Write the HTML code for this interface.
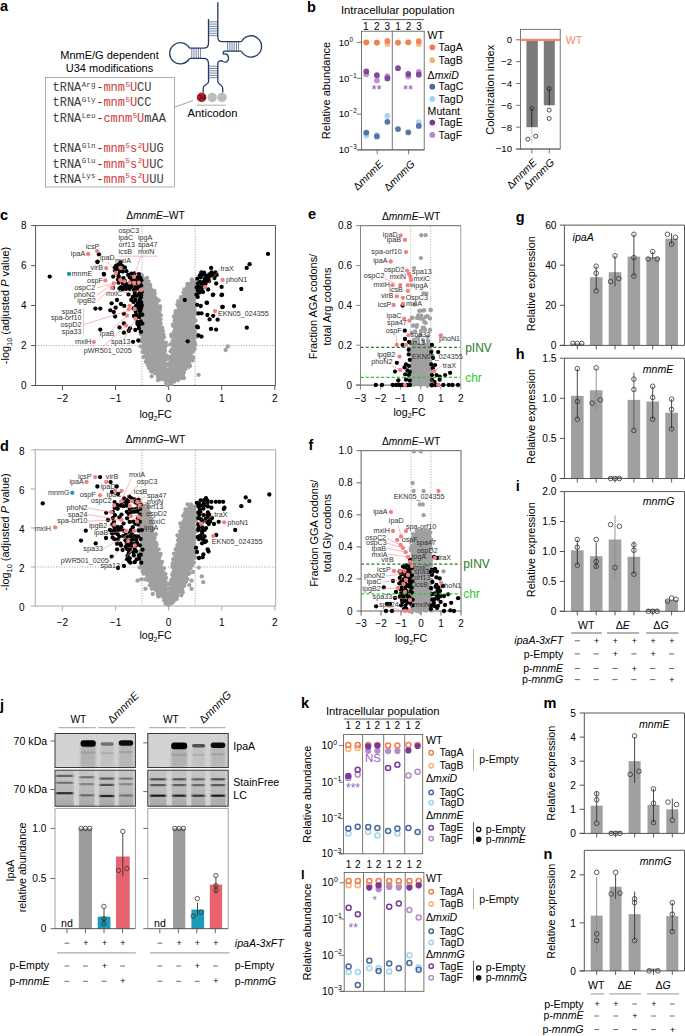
<!DOCTYPE html>
<html><head><meta charset="utf-8"><style>
html,body{margin:0;padding:0;background:#fff;}
svg{display:block;font-family:"Liberation Sans",sans-serif;}
</style></head><body>
<svg width="685" height="1036" viewBox="0 0 685 1036">
<rect width="685" height="1036" fill="#fff"/>
<text x="0.0" y="11.0" font-size="14.5" fill="#000" font-weight="bold">a</text>
<text x="109.5" y="59.0" font-size="11" text-anchor="middle">MnmE/G dependent</text>
<text x="109.5" y="71.5" font-size="11" text-anchor="middle">U34 modifications</text>
<rect x="45.5" y="77.5" width="129.0" height="109.5" fill="none" stroke="#8a8a8a" stroke-width="0.7"/>
<text x="52.5" y="91.0" font-size="12" fill="#3c3c3c" font-family="'Liberation Mono',monospace">tRNA</text>
<text x="81.8" y="86.8" font-size="7.6" fill="#3c3c3c" font-family="'Liberation Mono',monospace">Arg</text>
<text x="96.2" y="91.0" font-size="12" fill="#3c3c3c" font-family="'Liberation Mono',monospace">-</text>
<text x="103.4" y="91.0" font-size="12" fill="#c8393c" font-family="'Liberation Mono',monospace">mnm</text>
<text x="125.6" y="86.8" font-size="7.6" fill="#c8393c" font-family="'Liberation Mono',monospace">5</text>
<text x="129.9" y="91.0" font-size="12" fill="#c8393c" font-family="'Liberation Mono',monospace">U</text>
<text x="137.1" y="91.0" font-size="12" fill="#3c3c3c" font-family="'Liberation Mono',monospace">CU</text>
<text x="52.5" y="106.4" font-size="12" fill="#3c3c3c" font-family="'Liberation Mono',monospace">tRNA</text>
<text x="81.8" y="102.2" font-size="7.6" fill="#3c3c3c" font-family="'Liberation Mono',monospace">Gly</text>
<text x="96.2" y="106.4" font-size="12" fill="#3c3c3c" font-family="'Liberation Mono',monospace">-</text>
<text x="103.4" y="106.4" font-size="12" fill="#c8393c" font-family="'Liberation Mono',monospace">mnm</text>
<text x="125.6" y="102.2" font-size="7.6" fill="#c8393c" font-family="'Liberation Mono',monospace">5</text>
<text x="129.9" y="106.4" font-size="12" fill="#c8393c" font-family="'Liberation Mono',monospace">U</text>
<text x="137.1" y="106.4" font-size="12" fill="#3c3c3c" font-family="'Liberation Mono',monospace">CC</text>
<text x="52.5" y="121.8" font-size="12" fill="#3c3c3c" font-family="'Liberation Mono',monospace">tRNA</text>
<text x="81.8" y="117.6" font-size="7.6" fill="#3c3c3c" font-family="'Liberation Mono',monospace">Leu</text>
<text x="96.2" y="121.8" font-size="12" fill="#3c3c3c" font-family="'Liberation Mono',monospace">-</text>
<text x="103.4" y="121.8" font-size="12" fill="#c8393c" font-family="'Liberation Mono',monospace">cmnm</text>
<text x="132.8" y="117.6" font-size="7.6" fill="#c8393c" font-family="'Liberation Mono',monospace">5</text>
<text x="137.1" y="121.8" font-size="12" fill="#c8393c" font-family="'Liberation Mono',monospace">U</text>
<text x="144.3" y="121.8" font-size="12" fill="#3c3c3c" font-family="'Liberation Mono',monospace">mAA</text>
<text x="52.5" y="152.4" font-size="12" fill="#3c3c3c" font-family="'Liberation Mono',monospace">tRNA</text>
<text x="81.8" y="148.2" font-size="7.6" fill="#3c3c3c" font-family="'Liberation Mono',monospace">Gln</text>
<text x="96.2" y="152.4" font-size="12" fill="#3c3c3c" font-family="'Liberation Mono',monospace">-</text>
<text x="103.4" y="152.4" font-size="12" fill="#c8393c" font-family="'Liberation Mono',monospace">mnm</text>
<text x="125.6" y="148.2" font-size="7.6" fill="#c8393c" font-family="'Liberation Mono',monospace">5</text>
<text x="129.9" y="152.4" font-size="12" fill="#c8393c" font-family="'Liberation Mono',monospace">s</text>
<text x="137.7" y="148.2" font-size="7.6" fill="#c8393c" font-family="'Liberation Mono',monospace">2</text>
<text x="142.0" y="152.4" font-size="12" fill="#c8393c" font-family="'Liberation Mono',monospace">U</text>
<text x="149.2" y="152.4" font-size="12" fill="#3c3c3c" font-family="'Liberation Mono',monospace">UG</text>
<text x="52.5" y="167.6" font-size="12" fill="#3c3c3c" font-family="'Liberation Mono',monospace">tRNA</text>
<text x="81.8" y="163.4" font-size="7.6" fill="#3c3c3c" font-family="'Liberation Mono',monospace">Glu</text>
<text x="96.2" y="167.6" font-size="12" fill="#3c3c3c" font-family="'Liberation Mono',monospace">-</text>
<text x="103.4" y="167.6" font-size="12" fill="#c8393c" font-family="'Liberation Mono',monospace">mnm</text>
<text x="125.6" y="163.4" font-size="7.6" fill="#c8393c" font-family="'Liberation Mono',monospace">5</text>
<text x="129.9" y="167.6" font-size="12" fill="#c8393c" font-family="'Liberation Mono',monospace">s</text>
<text x="137.7" y="163.4" font-size="7.6" fill="#c8393c" font-family="'Liberation Mono',monospace">2</text>
<text x="142.0" y="167.6" font-size="12" fill="#c8393c" font-family="'Liberation Mono',monospace">U</text>
<text x="149.2" y="167.6" font-size="12" fill="#3c3c3c" font-family="'Liberation Mono',monospace">UC</text>
<text x="52.5" y="182.6" font-size="12" fill="#3c3c3c" font-family="'Liberation Mono',monospace">tRNA</text>
<text x="81.8" y="178.4" font-size="7.6" fill="#3c3c3c" font-family="'Liberation Mono',monospace">Lys</text>
<text x="96.2" y="182.6" font-size="12" fill="#3c3c3c" font-family="'Liberation Mono',monospace">-</text>
<text x="103.4" y="182.6" font-size="12" fill="#c8393c" font-family="'Liberation Mono',monospace">mnm</text>
<text x="125.6" y="178.4" font-size="7.6" fill="#c8393c" font-family="'Liberation Mono',monospace">5</text>
<text x="129.9" y="182.6" font-size="12" fill="#c8393c" font-family="'Liberation Mono',monospace">s</text>
<text x="137.7" y="178.4" font-size="7.6" fill="#c8393c" font-family="'Liberation Mono',monospace">2</text>
<text x="142.0" y="182.6" font-size="12" fill="#c8393c" font-family="'Liberation Mono',monospace">U</text>
<text x="149.2" y="182.6" font-size="12" fill="#3c3c3c" font-family="'Liberation Mono',monospace">UU</text>
<line x1="174.6" y1="107.2" x2="193.0" y2="100.5" stroke="#777" stroke-width="0.7"/>
<path d="M217.8,2.2 L217.8,37 Q217.8,41.6 222,41.6 L241.5,41.6" fill="none" stroke="#1f3a63" stroke-width="1.3"/>
<path d="M208.5,19 L208.5,43 Q208.5,48.2 203.5,48.2 L189.6,48.2" fill="none" stroke="#1f3a63" stroke-width="1.3"/>
<path d="M189.6,48.2 A10.6,10.6 0 1 0 189.6,58.4" fill="none" stroke="#1f3a63" stroke-width="1.3"/>
<path d="M189.6,58.4 L203.5,58.4 Q208.5,58.4 208.5,63.5 L208.5,79" fill="none" stroke="#1f3a63" stroke-width="1.3"/>
<path d="M241.5,41.6 A10.6,10.6 0 1 1 241.5,51.2" fill="none" stroke="#1f3a63" stroke-width="1.3"/>
<path d="M241.5,51.2 L225.5,51.2 Q222,51.2 223.5,54 Q229,53.5 228.5,59 Q227.5,63.5 223,61.5 Q219.5,59.5 217.8,63 L217.8,79" fill="none" stroke="#1f3a63" stroke-width="1.3"/>
<path d="M208.6,79 L208.6,81.5 C208.6,84.5 203.2,84.5 203.2,88 L203.2,92.5" fill="none" stroke="#1f3a63" stroke-width="1.3"/>
<path d="M217.8,79 L217.8,81.5 C217.8,84.5 222.7,84.5 222.7,88 L222.7,92.5" fill="none" stroke="#1f3a63" stroke-width="1.3"/>
<line x1="208.5" y1="21.8" x2="217.8" y2="21.8" stroke="#2a4470" stroke-width="0.65"/>
<line x1="208.5" y1="24.1" x2="217.8" y2="24.1" stroke="#2a4470" stroke-width="0.65"/>
<line x1="208.5" y1="26.4" x2="217.8" y2="26.4" stroke="#2a4470" stroke-width="0.65"/>
<line x1="208.5" y1="28.7" x2="217.8" y2="28.7" stroke="#2a4470" stroke-width="0.65"/>
<line x1="208.5" y1="31.0" x2="217.8" y2="31.0" stroke="#2a4470" stroke-width="0.65"/>
<line x1="208.5" y1="33.3" x2="217.8" y2="33.3" stroke="#2a4470" stroke-width="0.65"/>
<line x1="208.5" y1="35.6" x2="217.8" y2="35.6" stroke="#2a4470" stroke-width="0.65"/>
<line x1="208.5" y1="66.2" x2="217.8" y2="66.2" stroke="#2a4470" stroke-width="0.65"/>
<line x1="208.5" y1="68.5" x2="217.8" y2="68.5" stroke="#2a4470" stroke-width="0.65"/>
<line x1="208.5" y1="70.8" x2="217.8" y2="70.8" stroke="#2a4470" stroke-width="0.65"/>
<line x1="208.5" y1="73.1" x2="217.8" y2="73.1" stroke="#2a4470" stroke-width="0.65"/>
<line x1="208.5" y1="75.4" x2="217.8" y2="75.4" stroke="#2a4470" stroke-width="0.65"/>
<line x1="208.5" y1="77.7" x2="217.8" y2="77.7" stroke="#2a4470" stroke-width="0.65"/>
<line x1="191.8" y1="48.2" x2="191.8" y2="58.4" stroke="#2a4470" stroke-width="0.65"/>
<line x1="194.0" y1="48.2" x2="194.0" y2="58.4" stroke="#2a4470" stroke-width="0.65"/>
<line x1="196.2" y1="48.2" x2="196.2" y2="58.4" stroke="#2a4470" stroke-width="0.65"/>
<line x1="198.4" y1="48.2" x2="198.4" y2="58.4" stroke="#2a4470" stroke-width="0.65"/>
<line x1="200.6" y1="48.2" x2="200.6" y2="58.4" stroke="#2a4470" stroke-width="0.65"/>
<line x1="227.6" y1="41.6" x2="227.6" y2="51.2" stroke="#2a4470" stroke-width="0.65"/>
<line x1="229.8" y1="41.6" x2="229.8" y2="51.2" stroke="#2a4470" stroke-width="0.65"/>
<line x1="232.0" y1="41.6" x2="232.0" y2="51.2" stroke="#2a4470" stroke-width="0.65"/>
<line x1="234.2" y1="41.6" x2="234.2" y2="51.2" stroke="#2a4470" stroke-width="0.65"/>
<line x1="236.4" y1="41.6" x2="236.4" y2="51.2" stroke="#2a4470" stroke-width="0.65"/>
<line x1="238.6" y1="41.6" x2="238.6" y2="51.2" stroke="#2a4470" stroke-width="0.65"/>
<circle cx="212.2" cy="97.4" r="4.7" fill="#bdbdbd"/>
<circle cx="222.0" cy="97.4" r="4.7" fill="#bdbdbd"/>
<circle cx="201.6" cy="97.4" r="4.8" fill="#b8262b"/>
<text x="201.7" y="100.1" font-size="7.6" text-anchor="middle" fill="#2a0808">34</text>
<line x1="197.0" y1="105.2" x2="225.8" y2="105.2" stroke="#999" stroke-width="0.8"/>
<text x="212.5" y="116.5" font-size="11.2" text-anchor="middle">Anticodon</text>
<text x="307.0" y="11.5" font-size="14.5" fill="#000" font-weight="bold">b</text>
<text x="397.8" y="14.0" font-size="11.3" text-anchor="middle">Intracellular population</text>
<line x1="362.0" y1="19.6" x2="424.2" y2="19.6" stroke="#333" stroke-width="0.8"/>
<text x="365.9" y="29.8" font-size="10" text-anchor="middle">1</text>
<text x="376.9" y="29.8" font-size="10" text-anchor="middle">2</text>
<text x="387.4" y="29.8" font-size="10" text-anchor="middle">3</text>
<text x="398.1" y="29.8" font-size="10" text-anchor="middle">1</text>
<text x="408.6" y="29.8" font-size="10" text-anchor="middle">2</text>
<text x="419.1" y="29.8" font-size="10" text-anchor="middle">3</text>
<rect x="361.5" y="31.2" width="62.7" height="118.7" fill="none" stroke="#555" stroke-width="0.8"/>
<line x1="392.3" y1="31.2" x2="392.3" y2="149.9" stroke="#555" stroke-width="0.8"/>
<line x1="356.8" y1="42.3" x2="361.5" y2="42.3" stroke="#555" stroke-width="0.8"/>
<text x="349.3" y="45.5" font-size="9.6" text-anchor="end">10</text>
<text x="349.6" y="41.5" font-size="6.3">0</text>
<line x1="356.8" y1="78.3" x2="361.5" y2="78.3" stroke="#555" stroke-width="0.8"/>
<text x="349.3" y="81.5" font-size="9.6" text-anchor="end">10</text>
<text x="349.6" y="77.5" font-size="6.3">−1</text>
<line x1="356.8" y1="114.1" x2="361.5" y2="114.1" stroke="#555" stroke-width="0.8"/>
<text x="349.3" y="117.3" font-size="9.6" text-anchor="end">10</text>
<text x="349.6" y="113.3" font-size="6.3">−2</text>
<line x1="356.8" y1="149.9" x2="361.5" y2="149.9" stroke="#555" stroke-width="0.8"/>
<text x="349.3" y="153.1" font-size="9.6" text-anchor="end">10</text>
<text x="349.6" y="149.1" font-size="6.3">−3</text>
<line x1="356.8" y1="149.9" x2="424.2" y2="149.9" stroke="#555" stroke-width="0.8"/>
<line x1="377.2" y1="149.9" x2="377.2" y2="154.3" stroke="#555" stroke-width="0.8"/>
<line x1="408.6" y1="149.9" x2="408.6" y2="154.3" stroke="#555" stroke-width="0.8"/>
<text x="329.5" y="90.5" font-size="11" text-anchor="middle" transform="rotate(-90 329.5 90.5)">Relative abundance</text>
<text x="384.0" y="164.5" font-size="10.5" text-anchor="end" transform="rotate(-45 384.0 164.5)">Δ<tspan font-style="italic">mnmE</tspan></text>
<text x="415.5" y="164.5" font-size="10.5" text-anchor="end" transform="rotate(-45 415.5 164.5)">Δ<tspan font-style="italic">mnmG</tspan></text>
<circle cx="366.3" cy="135.5" r="2.9" fill="#a3d2ee" fill-opacity="0.92"/>
<circle cx="376.9" cy="135.0" r="2.9" fill="#a3d2ee" fill-opacity="0.92"/>
<circle cx="387.4" cy="116.0" r="2.9" fill="#a3d2ee" fill-opacity="0.92"/>
<circle cx="418.8" cy="122.1" r="2.9" fill="#a3d2ee" fill-opacity="0.92"/>
<circle cx="366.3" cy="132.6" r="2.9" fill="#4a699c" fill-opacity="0.92"/>
<circle cx="376.9" cy="136.4" r="2.9" fill="#4a699c" fill-opacity="0.92"/>
<circle cx="387.4" cy="121.8" r="2.9" fill="#4a699c" fill-opacity="0.92"/>
<circle cx="398.0" cy="129.1" r="2.9" fill="#4a699c" fill-opacity="0.92"/>
<circle cx="408.3" cy="132.3" r="2.9" fill="#4a699c" fill-opacity="0.92"/>
<circle cx="418.8" cy="125.9" r="2.9" fill="#4a699c" fill-opacity="0.92"/>
<circle cx="366.3" cy="42.6" r="2.9" fill="#f7b373" fill-opacity="0.92"/>
<circle cx="376.9" cy="42.6" r="2.9" fill="#f7b373" fill-opacity="0.92"/>
<circle cx="387.4" cy="44.1" r="2.9" fill="#f7b373" fill-opacity="0.92"/>
<circle cx="398.0" cy="42.6" r="2.9" fill="#f7b373" fill-opacity="0.92"/>
<circle cx="408.3" cy="42.3" r="2.9" fill="#f7b373" fill-opacity="0.92"/>
<circle cx="418.8" cy="44.1" r="2.9" fill="#f7b373" fill-opacity="0.92"/>
<circle cx="366.3" cy="42.3" r="2.9" fill="#f07d4e" fill-opacity="0.92"/>
<circle cx="376.9" cy="42.6" r="2.9" fill="#f07d4e" fill-opacity="0.92"/>
<circle cx="387.4" cy="40.9" r="2.9" fill="#f07d4e" fill-opacity="0.92"/>
<circle cx="398.0" cy="42.6" r="2.9" fill="#f07d4e" fill-opacity="0.92"/>
<circle cx="408.3" cy="42.3" r="2.9" fill="#f07d4e" fill-opacity="0.92"/>
<circle cx="418.8" cy="41.2" r="2.9" fill="#f07d4e" fill-opacity="0.92"/>
<circle cx="366.3" cy="74.3" r="2.9" fill="#b98ac9" fill-opacity="0.92"/>
<circle cx="376.9" cy="80.6" r="2.9" fill="#b98ac9" fill-opacity="0.92"/>
<circle cx="387.4" cy="76.2" r="2.9" fill="#b98ac9" fill-opacity="0.92"/>
<circle cx="408.3" cy="76.6" r="2.9" fill="#b98ac9" fill-opacity="0.92"/>
<circle cx="418.8" cy="71.8" r="2.9" fill="#b98ac9" fill-opacity="0.92"/>
<circle cx="366.3" cy="71.4" r="2.9" fill="#7a3a9a" fill-opacity="0.92"/>
<circle cx="376.9" cy="75.2" r="2.9" fill="#7a3a9a" fill-opacity="0.92"/>
<circle cx="387.4" cy="78.4" r="2.9" fill="#7a3a9a" fill-opacity="0.92"/>
<circle cx="398.0" cy="68.2" r="2.9" fill="#7a3a9a" fill-opacity="0.92"/>
<circle cx="408.3" cy="74.0" r="2.9" fill="#7a3a9a" fill-opacity="0.92"/>
<circle cx="418.8" cy="74.7" r="2.9" fill="#7a3a9a" fill-opacity="0.92"/>
<text x="376.6" y="93.5" font-size="13" text-anchor="middle" fill="#8b4fb0">**</text>
<text x="408.0" y="93.5" font-size="13" text-anchor="middle" fill="#8b4fb0">**</text>
<text x="427.6" y="39.4" font-size="10.6">WT</text>
<text x="427.6" y="78.6" font-size="10.6">Δ<tspan font-style="italic">mxiD</tspan></text>
<text x="427.6" y="114.9" font-size="10.6">Mutant</text>
<circle cx="432.3" cy="47.3" r="2.9" fill="#f07d4e"/>
<text x="438.6" y="50.9" font-size="10.6">TagA</text>
<circle cx="432.3" cy="60.2" r="2.9" fill="#f7b373"/>
<text x="438.6" y="63.8" font-size="10.6">TagB</text>
<circle cx="432.3" cy="86.7" r="2.9" fill="#4a699c"/>
<text x="438.6" y="90.3" font-size="10.6">TagC</text>
<circle cx="432.3" cy="98.9" r="2.9" fill="#a3d2ee"/>
<text x="438.6" y="102.5" font-size="10.6">TagD</text>
<circle cx="432.3" cy="122.6" r="2.9" fill="#7a3a9a"/>
<text x="438.6" y="126.2" font-size="10.6">TagE</text>
<circle cx="432.3" cy="134.9" r="2.9" fill="#b98ac9"/>
<text x="438.6" y="138.5" font-size="10.6">TagF</text>
<rect x="520.4" y="29.3" width="39.8" height="119.7" fill="none" stroke="#555" stroke-width="0.8"/>
<rect x="526.4" y="39.8" width="11.4" height="87.4" fill="#7b7b7b"/>
<rect x="543.8" y="39.8" width="11.0" height="65.5" fill="#7b7b7b"/>
<line x1="520.4" y1="39.8" x2="560.2" y2="39.8" stroke="#f28a63" stroke-width="2.2"/>
<text x="565.8" y="43.6" font-size="10.5" fill="#f28a63">WT</text>
<line x1="516.0" y1="39.8" x2="520.4" y2="39.8" stroke="#555" stroke-width="0.8"/>
<text x="512.0" y="43.1" font-size="9.6" text-anchor="end">0</text>
<line x1="516.0" y1="61.6" x2="520.4" y2="61.6" stroke="#555" stroke-width="0.8"/>
<text x="512.0" y="64.9" font-size="9.6" text-anchor="end">−2</text>
<line x1="516.0" y1="83.5" x2="520.4" y2="83.5" stroke="#555" stroke-width="0.8"/>
<text x="512.0" y="86.8" font-size="9.6" text-anchor="end">−4</text>
<line x1="516.0" y1="105.3" x2="520.4" y2="105.3" stroke="#555" stroke-width="0.8"/>
<text x="512.0" y="108.6" font-size="9.6" text-anchor="end">−6</text>
<line x1="516.0" y1="127.2" x2="520.4" y2="127.2" stroke="#555" stroke-width="0.8"/>
<text x="512.0" y="130.5" font-size="9.6" text-anchor="end">−8</text>
<line x1="516.0" y1="149.0" x2="520.4" y2="149.0" stroke="#555" stroke-width="0.8"/>
<text x="512.0" y="152.3" font-size="9.6" text-anchor="end">−10</text>
<line x1="516.0" y1="149.0" x2="560.2" y2="149.0" stroke="#555" stroke-width="0.8"/>
<line x1="531.8" y1="149.0" x2="531.8" y2="153.5" stroke="#555" stroke-width="0.8"/>
<line x1="549.3" y1="149.0" x2="549.3" y2="153.5" stroke="#555" stroke-width="0.8"/>
<text x="494.0" y="89.8" font-size="11" text-anchor="middle" transform="rotate(-90 494.0 89.8)">Colonization index</text>
<line x1="531.8" y1="108.4" x2="531.8" y2="127.2" stroke="#222" stroke-width="0.9"/>
<line x1="531.8" y1="127.2" x2="531.8" y2="143.7" stroke="#c8c8c8" stroke-width="0.9"/>
<line x1="549.3" y1="88.6" x2="549.3" y2="105.4" stroke="#222" stroke-width="0.9"/>
<circle cx="531.8" cy="108.4" r="2.0" fill="none" stroke="#222" stroke-width="0.8"/>
<circle cx="527.9" cy="139.2" r="2.0" fill="none" stroke="#222" stroke-width="0.8"/>
<circle cx="535.7" cy="136.2" r="2.0" fill="none" stroke="#222" stroke-width="0.8"/>
<circle cx="549.2" cy="88.6" r="2.0" fill="none" stroke="#222" stroke-width="0.8"/>
<circle cx="549.2" cy="110.1" r="2.0" fill="none" stroke="#222" stroke-width="0.8"/>
<circle cx="549.2" cy="118.5" r="2.0" fill="none" stroke="#222" stroke-width="0.8"/>
<text x="537.5" y="163.0" font-size="10.5" text-anchor="end" transform="rotate(-45 537.5 163.0)">Δ<tspan font-style="italic">mnmE</tspan></text>
<text x="555.0" y="163.0" font-size="10.5" text-anchor="end" transform="rotate(-45 555.0 163.0)">Δ<tspan font-style="italic">mnmG</tspan></text>
<text x="0.0" y="219.5" font-size="14.5" fill="#000" font-weight="bold">c</text>
<rect x="35.6" y="225.6" width="239.79999999999998" height="159.9" fill="none" stroke="#444" stroke-width="0.9"/>
<line x1="142.0" y1="225.6" x2="142.0" y2="385.5" stroke="#777" stroke-width="0.7" stroke-dasharray="1,1.6"/>
<line x1="195.2" y1="225.6" x2="195.2" y2="385.5" stroke="#777" stroke-width="0.7" stroke-dasharray="1,1.6"/>
<line x1="35.6" y1="345.5" x2="275.4" y2="345.5" stroke="#777" stroke-width="0.7" stroke-dasharray="1,1.6"/>
<line x1="62.4" y1="385.5" x2="62.4" y2="390.0" stroke="#444" stroke-width="0.9"/>
<text x="62.4" y="402.0" font-size="10" text-anchor="middle">−2</text>
<line x1="115.5" y1="385.5" x2="115.5" y2="390.0" stroke="#444" stroke-width="0.9"/>
<text x="115.5" y="402.0" font-size="10" text-anchor="middle">−1</text>
<line x1="168.6" y1="385.5" x2="168.6" y2="390.0" stroke="#444" stroke-width="0.9"/>
<text x="168.6" y="402.0" font-size="10" text-anchor="middle">0</text>
<line x1="221.7" y1="385.5" x2="221.7" y2="390.0" stroke="#444" stroke-width="0.9"/>
<text x="221.7" y="402.0" font-size="10" text-anchor="middle">1</text>
<line x1="274.8" y1="385.5" x2="274.8" y2="390.0" stroke="#444" stroke-width="0.9"/>
<text x="274.8" y="402.0" font-size="10" text-anchor="middle">2</text>
<line x1="31.1" y1="385.5" x2="35.6" y2="385.5" stroke="#444" stroke-width="0.9"/>
<text x="26.6" y="389.0" font-size="10" text-anchor="end">0</text>
<line x1="31.1" y1="345.5" x2="35.6" y2="345.5" stroke="#444" stroke-width="0.9"/>
<text x="26.6" y="349.0" font-size="10" text-anchor="end">2</text>
<line x1="31.1" y1="305.5" x2="35.6" y2="305.5" stroke="#444" stroke-width="0.9"/>
<text x="26.6" y="309.0" font-size="10" text-anchor="end">4</text>
<line x1="31.1" y1="265.6" x2="35.6" y2="265.6" stroke="#444" stroke-width="0.9"/>
<text x="26.6" y="269.1" font-size="10" text-anchor="end">6</text>
<line x1="31.1" y1="225.6" x2="35.6" y2="225.6" stroke="#444" stroke-width="0.9"/>
<text x="26.6" y="229.1" font-size="10" text-anchor="end">8</text>
<text x="155.5" y="219.1" font-size="10.3" text-anchor="middle">Δ<tspan font-style="italic">mnmE</tspan>–WT</text>
<text x="9.2" y="305.5" font-size="10.9" text-anchor="middle" transform="rotate(-90 9.2 305.5)">-log<tspan font-size="7.5" dy="2.5">10</tspan><tspan dy="-2.5"> (adjusted </tspan><tspan font-style="italic">P</tspan> value)</text>
<text x="155.5" y="418.0" font-size="10.6" text-anchor="middle">log<tspan font-size="7" dy="2.5">2</tspan><tspan dy="-2.5">FC</tspan></text>
<path d="M142.0,275.0 L146.0,278.0 L151.0,285.0 L154.0,290.0 L157.5,298.0 L161.4,320.0 L165.0,345.0 L167.0,370.0 L168.5,385.0 L161.4,380.0 L152.0,371.0 L144.0,356.0 L141.7,345.0 L141.5,300.0 Z" fill="#a0a0a0"/>
<g fill="#a0a0a0"><circle cx="141.9" cy="275.2" r="2.15"/><circle cx="147.1" cy="277.9" r="2.15"/><circle cx="148.5" cy="281.7" r="2.15"/><circle cx="150.2" cy="285.0" r="2.15"/><circle cx="154.3" cy="290.8" r="2.15"/><circle cx="154.7" cy="293.5" r="2.15"/><circle cx="156.4" cy="298.8" r="2.15"/><circle cx="158.7" cy="300.5" r="2.15"/><circle cx="160.1" cy="306.5" r="2.15"/><circle cx="159.9" cy="309.3" r="2.15"/><circle cx="159.2" cy="311.4" r="2.15"/><circle cx="160.8" cy="315.2" r="2.15"/><circle cx="160.6" cy="319.3" r="2.15"/><circle cx="160.7" cy="323.5" r="2.15"/><circle cx="162.3" cy="328.0" r="2.15"/><circle cx="163.0" cy="331.1" r="2.15"/><circle cx="163.5" cy="334.7" r="2.15"/><circle cx="163.9" cy="337.3" r="2.15"/><circle cx="165.8" cy="342.7" r="2.15"/><circle cx="165.9" cy="345.5" r="2.15"/><circle cx="164.8" cy="347.9" r="2.15"/><circle cx="165.0" cy="351.0" r="2.15"/><circle cx="166.5" cy="355.5" r="2.15"/><circle cx="167.0" cy="359.0" r="2.15"/><circle cx="167.6" cy="363.8" r="2.15"/><circle cx="165.4" cy="365.7" r="2.15"/><circle cx="168.1" cy="369.9" r="2.15"/><circle cx="168.6" cy="373.5" r="2.15"/><circle cx="166.6" cy="377.8" r="2.15"/><circle cx="168.8" cy="380.7" r="2.15"/><circle cx="167.4" cy="384.6" r="2.15"/><circle cx="166.2" cy="383.2" r="2.15"/><circle cx="160.4" cy="379.3" r="2.15"/><circle cx="158.0" cy="376.6" r="2.15"/><circle cx="157.5" cy="374.7" r="2.15"/><circle cx="154.5" cy="373.1" r="2.15"/><circle cx="151.2" cy="371.6" r="2.15"/><circle cx="149.4" cy="368.4" r="2.15"/><circle cx="147.8" cy="364.8" r="2.15"/><circle cx="146.5" cy="361.4" r="2.15"/><circle cx="146.8" cy="359.8" r="2.15"/><circle cx="143.5" cy="357.0" r="2.15"/><circle cx="142.5" cy="352.1" r="2.15"/><circle cx="143.4" cy="349.0" r="2.15"/><circle cx="140.7" cy="346.3" r="2.15"/><circle cx="140.9" cy="341.2" r="2.15"/><circle cx="142.4" cy="338.1" r="2.15"/><circle cx="141.1" cy="334.2" r="2.15"/><circle cx="140.6" cy="332.4" r="2.15"/><circle cx="141.0" cy="329.2" r="2.15"/><circle cx="141.3" cy="325.6" r="2.15"/><circle cx="142.8" cy="322.5" r="2.15"/><circle cx="141.8" cy="320.2" r="2.15"/><circle cx="140.7" cy="315.2" r="2.15"/><circle cx="142.6" cy="313.7" r="2.15"/><circle cx="140.9" cy="308.8" r="2.15"/><circle cx="142.2" cy="307.6" r="2.15"/><circle cx="140.7" cy="304.4" r="2.15"/><circle cx="142.5" cy="300.3" r="2.15"/><circle cx="141.4" cy="295.4" r="2.15"/><circle cx="140.4" cy="294.1" r="2.15"/><circle cx="141.0" cy="289.8" r="2.15"/><circle cx="141.2" cy="286.6" r="2.15"/><circle cx="142.1" cy="281.6" r="2.15"/><circle cx="141.1" cy="279.1" r="2.15"/></g>
<path d="M192.0,279.0 L195.5,282.0 L195.5,345.0 L191.3,360.0 L186.2,370.0 L178.2,380.0 L168.5,385.0 L169.4,370.0 L171.6,345.0 L173.8,320.0 L178.9,300.0 L185.0,290.0 L188.4,283.0 Z" fill="#a0a0a0"/>
<g fill="#a0a0a0"><circle cx="191.9" cy="279.4" r="2.15"/><circle cx="195.9" cy="281.1" r="2.15"/><circle cx="194.2" cy="285.0" r="2.15"/><circle cx="194.9" cy="289.4" r="2.15"/><circle cx="196.0" cy="292.2" r="2.15"/><circle cx="195.7" cy="295.7" r="2.15"/><circle cx="194.6" cy="298.4" r="2.15"/><circle cx="194.6" cy="303.0" r="2.15"/><circle cx="194.4" cy="306.0" r="2.15"/><circle cx="194.4" cy="309.0" r="2.15"/><circle cx="195.1" cy="311.6" r="2.15"/><circle cx="196.4" cy="313.9" r="2.15"/><circle cx="194.4" cy="319.6" r="2.15"/><circle cx="195.5" cy="320.7" r="2.15"/><circle cx="196.8" cy="326.3" r="2.15"/><circle cx="194.5" cy="328.2" r="2.15"/><circle cx="194.6" cy="331.2" r="2.15"/><circle cx="195.8" cy="334.2" r="2.15"/><circle cx="196.0" cy="337.2" r="2.15"/><circle cx="194.6" cy="342.5" r="2.15"/><circle cx="195.2" cy="344.8" r="2.15"/><circle cx="194.7" cy="348.7" r="2.15"/><circle cx="193.1" cy="351.3" r="2.15"/><circle cx="192.9" cy="357.5" r="2.15"/><circle cx="192.5" cy="360.4" r="2.15"/><circle cx="189.2" cy="363.0" r="2.15"/><circle cx="188.4" cy="367.1" r="2.15"/><circle cx="185.2" cy="369.3" r="2.15"/><circle cx="183.8" cy="372.5" r="2.15"/><circle cx="183.0" cy="375.0" r="2.15"/><circle cx="179.0" cy="378.3" r="2.15"/><circle cx="178.0" cy="380.0" r="2.15"/><circle cx="174.2" cy="381.5" r="2.15"/><circle cx="171.4" cy="384.0" r="2.15"/><circle cx="167.5" cy="385.1" r="2.15"/><circle cx="167.9" cy="381.8" r="2.15"/><circle cx="167.7" cy="376.9" r="2.15"/><circle cx="168.8" cy="374.1" r="2.15"/><circle cx="168.2" cy="369.9" r="2.15"/><circle cx="169.0" cy="365.9" r="2.15"/><circle cx="170.0" cy="364.0" r="2.15"/><circle cx="170.3" cy="360.5" r="2.15"/><circle cx="169.8" cy="356.8" r="2.15"/><circle cx="170.6" cy="351.3" r="2.15"/><circle cx="171.9" cy="349.6" r="2.15"/><circle cx="170.3" cy="344.4" r="2.15"/><circle cx="172.6" cy="341.0" r="2.15"/><circle cx="171.6" cy="336.6" r="2.15"/><circle cx="171.3" cy="334.6" r="2.15"/><circle cx="174.1" cy="332.0" r="2.15"/><circle cx="173.2" cy="325.9" r="2.15"/><circle cx="173.0" cy="324.3" r="2.15"/><circle cx="174.7" cy="320.4" r="2.15"/><circle cx="173.9" cy="316.7" r="2.15"/><circle cx="175.4" cy="313.7" r="2.15"/><circle cx="175.7" cy="311.2" r="2.15"/><circle cx="178.2" cy="305.8" r="2.15"/><circle cx="177.5" cy="304.3" r="2.15"/><circle cx="178.3" cy="301.2" r="2.15"/><circle cx="181.0" cy="297.2" r="2.15"/><circle cx="183.5" cy="292.6" r="2.15"/><circle cx="184.4" cy="289.4" r="2.15"/><circle cx="187.2" cy="287.0" r="2.15"/><circle cx="187.4" cy="284.0" r="2.15"/></g>
<g fill="#a0a0a0"><circle cx="151.6" cy="376.4" r="2.15"/><circle cx="182.6" cy="371.0" r="2.15"/><circle cx="198.6" cy="374.9" r="2.15"/><circle cx="181.8" cy="378.1" r="2.15"/><circle cx="184.0" cy="378.0" r="2.15"/><circle cx="225.6" cy="350.0" r="2.15"/><circle cx="227.8" cy="346.4" r="2.15"/><circle cx="146.0" cy="362.0" r="2.15"/><circle cx="149.0" cy="367.0" r="2.15"/><circle cx="190.0" cy="366.0" r="2.15"/><circle cx="193.0" cy="358.0" r="2.15"/><circle cx="158.0" cy="380.0" r="2.15"/></g>
<g fill="#000"><circle cx="120.5" cy="262.5" r="2.15"/><circle cx="116.2" cy="265.7" r="2.15"/><circle cx="118.4" cy="264.7" r="2.15"/><circle cx="122.1" cy="265.9" r="2.15"/><circle cx="114.7" cy="267.6" r="2.15"/><circle cx="117.0" cy="268.9" r="2.15"/><circle cx="121.5" cy="268.6" r="2.15"/><circle cx="124.9" cy="267.4" r="2.15"/><circle cx="114.9" cy="270.4" r="2.15"/><circle cx="120.1" cy="271.1" r="2.15"/><circle cx="122.8" cy="271.6" r="2.15"/><circle cx="126.4" cy="271.2" r="2.15"/><circle cx="118.0" cy="274.0" r="2.15"/><circle cx="128.2" cy="274.9" r="2.15"/><circle cx="131.3" cy="273.7" r="2.15"/><circle cx="134.4" cy="273.4" r="2.15"/><circle cx="139.0" cy="274.1" r="2.15"/><circle cx="118.7" cy="276.5" r="2.15"/><circle cx="123.5" cy="278.1" r="2.15"/><circle cx="129.8" cy="277.6" r="2.15"/><circle cx="132.7" cy="277.8" r="2.15"/><circle cx="137.4" cy="277.4" r="2.15"/><circle cx="140.4" cy="277.9" r="2.15"/><circle cx="118.0" cy="279.4" r="2.15"/><circle cx="121.8" cy="279.4" r="2.15"/><circle cx="124.8" cy="280.9" r="2.15"/><circle cx="132.2" cy="279.6" r="2.15"/><circle cx="134.3" cy="279.4" r="2.15"/><circle cx="137.9" cy="280.9" r="2.15"/><circle cx="141.3" cy="280.3" r="2.15"/><circle cx="118.6" cy="282.7" r="2.15"/><circle cx="123.1" cy="283.4" r="2.15"/><circle cx="126.6" cy="284.0" r="2.15"/><circle cx="130.3" cy="282.4" r="2.15"/><circle cx="132.5" cy="283.8" r="2.15"/><circle cx="137.1" cy="282.9" r="2.15"/><circle cx="139.9" cy="282.5" r="2.15"/><circle cx="121.1" cy="287.2" r="2.15"/><circle cx="124.7" cy="286.4" r="2.15"/><circle cx="128.8" cy="286.0" r="2.15"/><circle cx="131.5" cy="286.5" r="2.15"/><circle cx="135.6" cy="287.2" r="2.15"/><circle cx="138.2" cy="287.2" r="2.15"/><circle cx="141.2" cy="285.6" r="2.15"/><circle cx="119.5" cy="288.5" r="2.15"/><circle cx="122.6" cy="289.4" r="2.15"/><circle cx="126.1" cy="288.9" r="2.15"/><circle cx="129.6" cy="288.9" r="2.15"/><circle cx="133.8" cy="289.8" r="2.15"/><circle cx="136.3" cy="289.2" r="2.15"/><circle cx="140.5" cy="290.2" r="2.15"/><circle cx="134.8" cy="292.7" r="2.15"/><circle cx="139.3" cy="293.3" r="2.15"/><circle cx="141.7" cy="292.1" r="2.15"/><circle cx="137.0" cy="295.8" r="2.15"/><circle cx="141.1" cy="295.2" r="2.15"/></g>
<g fill="#000"><circle cx="132.7" cy="296.9" r="2.15"/><circle cx="131.3" cy="300.0" r="2.15"/><circle cx="135.6" cy="299.9" r="2.15"/><circle cx="139.8" cy="299.5" r="2.15"/><circle cx="137.7" cy="303.1" r="2.15"/><circle cx="141.2" cy="302.5" r="2.15"/><circle cx="136.2" cy="305.7" r="2.15"/><circle cx="139.6" cy="305.7" r="2.15"/><circle cx="141.8" cy="305.5" r="2.15"/><circle cx="133.6" cy="308.4" r="2.15"/><circle cx="137.9" cy="308.2" r="2.15"/><circle cx="140.9" cy="308.2" r="2.15"/><circle cx="135.7" cy="311.7" r="2.15"/><circle cx="139.9" cy="311.4" r="2.15"/><circle cx="136.6" cy="314.9" r="2.15"/><circle cx="140.5" cy="314.5" r="2.15"/><circle cx="135.9" cy="318.2" r="2.15"/><circle cx="139.3" cy="317.1" r="2.15"/><circle cx="137.4" cy="321.9" r="2.15"/><circle cx="140.8" cy="321.5" r="2.15"/><circle cx="138.1" cy="324.2" r="2.15"/><circle cx="142.3" cy="323.6" r="2.15"/></g>
<g fill="#000"><circle cx="201.3" cy="272.5" r="2.15"/><circle cx="204.0" cy="272.6" r="2.15"/><circle cx="211.5" cy="272.5" r="2.15"/><circle cx="215.4" cy="272.3" r="2.15"/><circle cx="199.9" cy="275.3" r="2.15"/><circle cx="203.3" cy="274.5" r="2.15"/><circle cx="206.2" cy="275.7" r="2.15"/><circle cx="209.3" cy="274.4" r="2.15"/><circle cx="213.1" cy="275.2" r="2.15"/><circle cx="216.7" cy="274.9" r="2.15"/><circle cx="197.4" cy="278.6" r="2.15"/><circle cx="200.8" cy="277.4" r="2.15"/><circle cx="205.1" cy="278.7" r="2.15"/><circle cx="208.3" cy="278.9" r="2.15"/><circle cx="214.5" cy="278.0" r="2.15"/><circle cx="200.0" cy="282.0" r="2.15"/><circle cx="203.9" cy="281.6" r="2.15"/><circle cx="207.4" cy="281.0" r="2.15"/><circle cx="209.2" cy="281.1" r="2.15"/><circle cx="197.8" cy="283.6" r="2.15"/><circle cx="201.8" cy="283.8" r="2.15"/><circle cx="205.5" cy="284.1" r="2.15"/><circle cx="196.6" cy="287.5" r="2.15"/><circle cx="199.1" cy="287.1" r="2.15"/><circle cx="203.1" cy="287.4" r="2.15"/><circle cx="197.9" cy="290.4" r="2.15"/><circle cx="201.4" cy="290.3" r="2.15"/><circle cx="199.4" cy="292.6" r="2.15"/><circle cx="197.7" cy="296.9" r="2.15"/></g>
<g fill="#000"><circle cx="49.7" cy="276.6" r="2.15"/><circle cx="98.9" cy="254.3" r="2.15"/><circle cx="97.4" cy="262.0" r="2.15"/><circle cx="104.0" cy="274.5" r="2.15"/><circle cx="113.2" cy="276.6" r="2.15"/><circle cx="97.6" cy="261.6" r="2.15"/><circle cx="103.8" cy="273.8" r="2.15"/><circle cx="113.0" cy="287.8" r="2.15"/><circle cx="111.6" cy="303.3" r="2.15"/><circle cx="100.3" cy="308.6" r="2.15"/><circle cx="95.4" cy="308.6" r="2.15"/><circle cx="110.3" cy="310.3" r="2.15"/><circle cx="115.6" cy="307.7" r="2.15"/><circle cx="113.8" cy="312.1" r="2.15"/><circle cx="115.1" cy="316.5" r="2.15"/><circle cx="124.3" cy="305.9" r="2.15"/><circle cx="123.9" cy="313.8" r="2.15"/><circle cx="134.0" cy="316.0" r="2.15"/><circle cx="136.2" cy="315.1" r="2.15"/><circle cx="123.9" cy="323.5" r="2.15"/><circle cx="119.5" cy="327.4" r="2.15"/><circle cx="123.9" cy="332.7" r="2.15"/><circle cx="100.3" cy="329.6" r="2.15"/><circle cx="130.0" cy="328.3" r="2.15"/><circle cx="128.7" cy="330.9" r="2.15"/><circle cx="135.3" cy="330.0" r="2.15"/><circle cx="138.8" cy="328.3" r="2.15"/><circle cx="141.0" cy="331.8" r="2.15"/><circle cx="133.1" cy="341.8" r="2.15"/><circle cx="138.3" cy="340.5" r="2.15"/><circle cx="137.5" cy="323.9" r="2.15"/><circle cx="138.8" cy="325.6" r="2.15"/><circle cx="133.5" cy="302.0" r="2.15"/><circle cx="139.7" cy="301.1" r="2.15"/><circle cx="140.5" cy="309.9" r="2.15"/><circle cx="142.3" cy="314.7" r="2.15"/><circle cx="138.8" cy="307.3" r="2.15"/><circle cx="134.4" cy="295.9" r="2.15"/><circle cx="141.0" cy="297.2" r="2.15"/><circle cx="128.5" cy="294.4" r="2.15"/><circle cx="117.0" cy="300.0" r="2.15"/><circle cx="121.0" cy="304.0" r="2.15"/><circle cx="268.0" cy="253.9" r="2.15"/><circle cx="249.6" cy="264.2" r="2.15"/><circle cx="246.7" cy="267.9" r="2.15"/><circle cx="211.1" cy="267.9" r="2.15"/><circle cx="241.3" cy="289.0" r="2.15"/><circle cx="234.0" cy="306.1" r="2.15"/><circle cx="222.3" cy="306.9" r="2.15"/><circle cx="221.6" cy="295.2" r="2.15"/><circle cx="212.8" cy="294.9" r="2.15"/><circle cx="221.6" cy="286.9" r="2.15"/><circle cx="216.2" cy="283.5" r="2.15"/><circle cx="207.0" cy="302.9" r="2.15"/><circle cx="184.8" cy="300.0" r="2.15"/><circle cx="197.2" cy="304.8" r="2.15"/><circle cx="200.8" cy="306.0" r="2.15"/><circle cx="198.6" cy="313.3" r="2.15"/><circle cx="201.5" cy="313.3" r="2.15"/><circle cx="207.4" cy="315.0" r="2.15"/><circle cx="213.2" cy="315.8" r="2.15"/><circle cx="209.6" cy="319.4" r="2.15"/><circle cx="217.6" cy="319.7" r="2.15"/><circle cx="211.0" cy="328.9" r="2.15"/><circle cx="216.1" cy="329.6" r="2.15"/><circle cx="197.2" cy="326.7" r="2.15"/><circle cx="197.9" cy="327.4" r="2.15"/><circle cx="198.6" cy="335.5" r="2.15"/><circle cx="201.5" cy="336.6" r="2.15"/><circle cx="187.7" cy="341.3" r="2.15"/><circle cx="206.6" cy="302.6" r="2.15"/><circle cx="222.7" cy="307.0" r="2.15"/><circle cx="222.0" cy="294.6" r="2.15"/><circle cx="246.8" cy="327.7" r="2.15"/><circle cx="213.2" cy="294.6" r="2.15"/><circle cx="208.1" cy="289.5" r="2.15"/><circle cx="196.4" cy="294.6" r="2.15"/><circle cx="199.0" cy="287.0" r="2.15"/><circle cx="203.0" cy="292.0" r="2.15"/><circle cx="210.0" cy="276.0" r="2.15"/><circle cx="205.0" cy="280.0" r="2.15"/></g>
<g fill="#f47f7f"><circle cx="88.1" cy="254.0" r="2.15"/><circle cx="97.2" cy="251.1" r="2.15"/><circle cx="106.2" cy="268.1" r="2.15"/><circle cx="105.3" cy="280.4" r="2.15"/><circle cx="113.8" cy="283.5" r="2.15"/><circle cx="112.1" cy="287.8" r="2.15"/><circle cx="120.8" cy="268.1" r="2.15"/><circle cx="116.0" cy="273.0" r="2.15"/><circle cx="120.4" cy="280.0" r="2.15"/><circle cx="124.3" cy="281.3" r="2.15"/><circle cx="129.6" cy="282.6" r="2.15"/><circle cx="134.0" cy="276.9" r="2.15"/><circle cx="134.0" cy="283.0" r="2.15"/><circle cx="138.8" cy="282.6" r="2.15"/><circle cx="141.0" cy="290.0" r="2.15"/><circle cx="129.6" cy="305.9" r="2.15"/><circle cx="128.7" cy="309.4" r="2.15"/><circle cx="134.8" cy="309.0" r="2.15"/><circle cx="127.0" cy="315.6" r="2.15"/><circle cx="135.5" cy="318.6" r="2.15"/><circle cx="126.1" cy="325.6" r="2.15"/><circle cx="93.8" cy="342.1" r="2.15"/><circle cx="222.6" cy="279.9" r="2.15"/><circle cx="205.1" cy="287.2" r="2.15"/><circle cx="215.0" cy="311.1" r="2.15"/></g>
<g fill="#1a96b4"><circle cx="69.0" cy="274.0" r="2.15"/></g>
<text x="92.5" y="248.9" font-size="7.2" text-anchor="middle" fill="#333">icsP</text>
<text x="85.2" y="255.8" font-size="7.2" text-anchor="end" fill="#333">ipaA</text>
<text x="100.0" y="259.7" font-size="7.2" fill="#333">ipaD</text>
<text x="115.0" y="262.6" font-size="7.2" fill="#333">mxiA</text>
<text x="103.0" y="270.0" font-size="7.2" text-anchor="end" fill="#333">virB</text>
<text x="71.6" y="275.9" font-size="7.2" fill="#333">mnmE</text>
<text x="103.0" y="282.5" font-size="7.2" text-anchor="end" fill="#333">ospF</text>
<text x="95.3" y="290.0" font-size="7.2" text-anchor="end" fill="#333">ospC2</text>
<text x="95.3" y="297.0" font-size="7.2" text-anchor="end" fill="#333">phoN2</text>
<text x="95.7" y="303.4" font-size="7.2" text-anchor="end" fill="#333">ipgB2</text>
<text x="105.9" y="295.9" font-size="7.2" fill="#333">mxiC</text>
<text x="118.5" y="232.6" font-size="7.2" fill="#333">ospC3</text>
<text x="118.5" y="239.9" font-size="7.2" fill="#333">ipaC</text>
<text x="118.5" y="247.1" font-size="7.2" fill="#333">orf13</text>
<text x="118.5" y="253.9" font-size="7.2" fill="#333">icsB</text>
<text x="138.0" y="239.9" font-size="7.2" fill="#333">ipgA</text>
<text x="138.0" y="247.1" font-size="7.2" fill="#333">spa47</text>
<text x="138.0" y="253.9" font-size="7.2" fill="#333">mxiN</text>
<text x="81.4" y="313.6" font-size="7.2" text-anchor="end" fill="#333">spa24</text>
<text x="81.4" y="320.4" font-size="7.2" text-anchor="end" fill="#333">spa-orf10</text>
<text x="81.4" y="327.2" font-size="7.2" text-anchor="end" fill="#333">ospD2</text>
<text x="81.4" y="333.8" font-size="7.2" text-anchor="end" fill="#333">spa33</text>
<text x="91.3" y="344.0" font-size="7.2" text-anchor="end" fill="#333">mxiH</text>
<text x="99.8" y="336.4" font-size="7.2" fill="#333">ipaB</text>
<text x="83.7" y="353.1" font-size="7.2" fill="#333">pWR501_0205</text>
<text x="111.0" y="344.0" font-size="7.2" fill="#333">spa13</text>
<text x="220.6" y="271.1" font-size="7.2" fill="#333">traX</text>
<text x="226.0" y="281.6" font-size="7.2" fill="#333">phoN1</text>
<text x="218.0" y="316.0" font-size="7.2" fill="#333">EKN05_024355</text>
<path d="M118.7,256.2 L157.8,256.2" fill="none" stroke="#f38b8b" stroke-width="0.6"/>
<path d="M140.9,256.2 L133.9,276.6" fill="none" stroke="#f38b8b" stroke-width="0.6"/>
<path d="M83.6,308.2 L83.6,333.8" fill="none" stroke="#f38b8b" stroke-width="0.6"/>
<path d="M83.6,324.6 L127.0,311.2" fill="none" stroke="#f38b8b" stroke-width="0.6"/>
<path d="M108.0,262.0 L116.0,273.0" fill="none" stroke="#f38b8b" stroke-width="0.6"/>
<path d="M96.5,288.0 L113.8,283.5" fill="none" stroke="#f38b8b" stroke-width="0.6"/>
<path d="M96.5,295.0 L113.8,283.5" fill="none" stroke="#f38b8b" stroke-width="0.6"/>
<path d="M97.0,301.0 L112.1,287.8" fill="none" stroke="#f38b8b" stroke-width="0.6"/>
<path d="M123.0,293.0 L141.0,290.0" fill="none" stroke="#f38b8b" stroke-width="0.6"/>
<path d="M110.0,332.0 L127.0,315.6" fill="none" stroke="#f38b8b" stroke-width="0.6"/>
<path d="M102.0,347.5 L126.1,325.6" fill="none" stroke="#f38b8b" stroke-width="0.6"/>
<path d="M124.0,339.0 L135.5,318.6" fill="none" stroke="#f38b8b" stroke-width="0.6"/>
<path d="M220.0,269.0 L205.1,287.2" fill="none" stroke="#f38b8b" stroke-width="0.6"/>
<text x="0.0" y="451.0" font-size="14.5" fill="#000" font-weight="bold">d</text>
<g>
<rect x="35.3" y="449.8" width="240.3" height="156.2" fill="none" stroke="#b8b8b8" stroke-width="1.2"/>
<line x1="142.0" y1="449.8" x2="142.0" y2="606.0" stroke="#777" stroke-width="0.7" stroke-dasharray="1,1.6"/>
<line x1="195.2" y1="449.8" x2="195.2" y2="606.0" stroke="#777" stroke-width="0.7" stroke-dasharray="1,1.6"/>
<line x1="35.3" y1="567.0" x2="275.6" y2="567.0" stroke="#777" stroke-width="0.7" stroke-dasharray="1,1.6"/>
<line x1="62.4" y1="606.0" x2="62.4" y2="610.5" stroke="#b8b8b8" stroke-width="1.2"/>
<text x="62.4" y="625.5" font-size="10" text-anchor="middle">−2</text>
<line x1="115.5" y1="606.0" x2="115.5" y2="610.5" stroke="#b8b8b8" stroke-width="1.2"/>
<text x="115.5" y="625.5" font-size="10" text-anchor="middle">−1</text>
<line x1="168.6" y1="606.0" x2="168.6" y2="610.5" stroke="#b8b8b8" stroke-width="1.2"/>
<text x="168.6" y="625.5" font-size="10" text-anchor="middle">0</text>
<line x1="221.7" y1="606.0" x2="221.7" y2="610.5" stroke="#b8b8b8" stroke-width="1.2"/>
<text x="221.7" y="625.5" font-size="10" text-anchor="middle">1</text>
<line x1="274.8" y1="606.0" x2="274.8" y2="610.5" stroke="#b8b8b8" stroke-width="1.2"/>
<text x="274.8" y="625.5" font-size="10" text-anchor="middle">2</text>
<line x1="30.8" y1="606.0" x2="35.3" y2="606.0" stroke="#b8b8b8" stroke-width="1.2"/>
<text x="24.5" y="611.0" font-size="10" text-anchor="end">0</text>
<line x1="30.8" y1="567.0" x2="35.3" y2="567.0" stroke="#b8b8b8" stroke-width="1.2"/>
<text x="24.5" y="572.0" font-size="10" text-anchor="end">2</text>
<line x1="30.8" y1="527.9" x2="35.3" y2="527.9" stroke="#b8b8b8" stroke-width="1.2"/>
<text x="24.5" y="532.9" font-size="10" text-anchor="end">4</text>
<line x1="30.8" y1="488.9" x2="35.3" y2="488.9" stroke="#b8b8b8" stroke-width="1.2"/>
<text x="24.5" y="493.9" font-size="10" text-anchor="end">6</text>
<line x1="30.8" y1="449.8" x2="35.3" y2="449.8" stroke="#b8b8b8" stroke-width="1.2"/>
<text x="24.5" y="454.8" font-size="10" text-anchor="end">8</text>
</g>
<text x="155.5" y="442.8" font-size="10.3" text-anchor="middle">Δ<tspan font-style="italic">mnmG</tspan>–WT</text>
<text x="155.5" y="639.0" font-size="10.6" text-anchor="middle">log<tspan font-size="7" dy="2.5">2</tspan><tspan dy="-2.5">FC</tspan></text>
<text x="9.2" y="532.0" font-size="10.9" text-anchor="middle" transform="rotate(-90 9.2 532.0)">-log<tspan font-size="7.5" dy="2.5">10</tspan><tspan dy="-2.5"> (adjusted </tspan><tspan font-style="italic">P</tspan> value)</text>
<path d="M141.5,504.0 L147.7,504.0 L150.0,512.0 L152.1,523.8 L155.5,538.0 L159.4,553.0 L163.0,568.0 L166.7,582.0 L168.5,605.0 L164.0,600.0 L159.4,596.8 L152.0,588.0 L146.0,578.0 L141.5,567.0 L141.5,530.0 Z" fill="#a0a0a0"/>
<g fill="#a0a0a0"><circle cx="140.2" cy="503.0" r="2.15"/><circle cx="147.4" cy="504.5" r="2.15"/><circle cx="147.9" cy="507.0" r="2.15"/><circle cx="149.3" cy="512.7" r="2.15"/><circle cx="149.8" cy="516.6" r="2.15"/><circle cx="151.8" cy="518.9" r="2.15"/><circle cx="152.2" cy="523.7" r="2.15"/><circle cx="152.7" cy="528.6" r="2.15"/><circle cx="152.7" cy="529.7" r="2.15"/><circle cx="155.8" cy="534.2" r="2.15"/><circle cx="154.7" cy="537.6" r="2.15"/><circle cx="156.1" cy="542.9" r="2.15"/><circle cx="156.7" cy="544.8" r="2.15"/><circle cx="158.6" cy="549.4" r="2.15"/><circle cx="160.6" cy="553.9" r="2.15"/><circle cx="159.9" cy="556.0" r="2.15"/><circle cx="162.1" cy="561.8" r="2.15"/><circle cx="160.9" cy="564.9" r="2.15"/><circle cx="164.0" cy="568.4" r="2.15"/><circle cx="163.2" cy="572.3" r="2.15"/><circle cx="165.4" cy="574.2" r="2.15"/><circle cx="166.1" cy="577.8" r="2.15"/><circle cx="165.5" cy="581.6" r="2.15"/><circle cx="166.5" cy="585.0" r="2.15"/><circle cx="167.6" cy="589.4" r="2.15"/><circle cx="168.7" cy="593.1" r="2.15"/><circle cx="169.0" cy="595.9" r="2.15"/><circle cx="167.5" cy="597.6" r="2.15"/><circle cx="168.6" cy="601.8" r="2.15"/><circle cx="169.0" cy="603.9" r="2.15"/><circle cx="165.5" cy="603.6" r="2.15"/><circle cx="164.3" cy="600.5" r="2.15"/><circle cx="158.3" cy="596.5" r="2.15"/><circle cx="158.0" cy="594.3" r="2.15"/><circle cx="155.7" cy="590.1" r="2.15"/><circle cx="151.9" cy="588.8" r="2.15"/><circle cx="149.9" cy="585.4" r="2.15"/><circle cx="148.2" cy="580.3" r="2.15"/><circle cx="145.0" cy="579.3" r="2.15"/><circle cx="143.5" cy="573.5" r="2.15"/><circle cx="142.6" cy="571.2" r="2.15"/><circle cx="142.4" cy="566.9" r="2.15"/><circle cx="141.5" cy="564.4" r="2.15"/><circle cx="140.9" cy="559.9" r="2.15"/><circle cx="141.8" cy="557.3" r="2.15"/><circle cx="140.3" cy="552.5" r="2.15"/><circle cx="140.6" cy="550.8" r="2.15"/><circle cx="142.0" cy="548.0" r="2.15"/><circle cx="142.2" cy="542.8" r="2.15"/><circle cx="142.2" cy="541.4" r="2.15"/><circle cx="141.1" cy="535.5" r="2.15"/><circle cx="141.2" cy="532.8" r="2.15"/><circle cx="140.7" cy="528.8" r="2.15"/><circle cx="140.5" cy="527.7" r="2.15"/><circle cx="140.3" cy="523.8" r="2.15"/><circle cx="140.7" cy="519.5" r="2.15"/><circle cx="142.3" cy="516.5" r="2.15"/><circle cx="140.7" cy="513.6" r="2.15"/><circle cx="142.0" cy="510.6" r="2.15"/><circle cx="142.4" cy="507.0" r="2.15"/></g>
<path d="M188.6,505.0 L191.5,503.5 L195.2,506.0 L195.2,557.4 L192.0,566.0 L188.6,575.0 L182.8,590.0 L176.0,598.0 L168.5,605.0 L170.4,582.2 L172.5,568.0 L174.7,553.0 L178.0,538.0 L181.3,523.8 L185.0,512.0 Z" fill="#a0a0a0"/>
<g fill="#a0a0a0"><circle cx="187.5" cy="504.3" r="2.15"/><circle cx="191.0" cy="504.5" r="2.15"/><circle cx="195.2" cy="506.6" r="2.15"/><circle cx="194.2" cy="509.2" r="2.15"/><circle cx="196.1" cy="512.5" r="2.15"/><circle cx="196.4" cy="516.6" r="2.15"/><circle cx="194.9" cy="517.6" r="2.15"/><circle cx="195.9" cy="521.1" r="2.15"/><circle cx="193.9" cy="525.9" r="2.15"/><circle cx="196.1" cy="529.4" r="2.15"/><circle cx="196.4" cy="530.9" r="2.15"/><circle cx="194.1" cy="533.9" r="2.15"/><circle cx="196.4" cy="537.1" r="2.15"/><circle cx="194.3" cy="540.1" r="2.15"/><circle cx="194.0" cy="543.3" r="2.15"/><circle cx="194.8" cy="546.9" r="2.15"/><circle cx="194.7" cy="552.1" r="2.15"/><circle cx="194.3" cy="555.0" r="2.15"/><circle cx="195.8" cy="557.6" r="2.15"/><circle cx="193.8" cy="562.4" r="2.15"/><circle cx="192.2" cy="565.3" r="2.15"/><circle cx="190.4" cy="568.3" r="2.15"/><circle cx="189.5" cy="573.3" r="2.15"/><circle cx="188.4" cy="573.9" r="2.15"/><circle cx="187.4" cy="578.8" r="2.15"/><circle cx="186.1" cy="581.5" r="2.15"/><circle cx="184.1" cy="582.9" r="2.15"/><circle cx="184.4" cy="585.8" r="2.15"/><circle cx="182.3" cy="589.7" r="2.15"/><circle cx="179.7" cy="591.5" r="2.15"/><circle cx="177.0" cy="596.5" r="2.15"/><circle cx="176.5" cy="599.2" r="2.15"/><circle cx="173.5" cy="601.5" r="2.15"/><circle cx="171.9" cy="603.0" r="2.15"/><circle cx="168.6" cy="605.0" r="2.15"/><circle cx="168.1" cy="601.4" r="2.15"/><circle cx="169.6" cy="597.7" r="2.15"/><circle cx="170.2" cy="595.3" r="2.15"/><circle cx="169.9" cy="592.8" r="2.15"/><circle cx="170.2" cy="587.8" r="2.15"/><circle cx="169.5" cy="584.2" r="2.15"/><circle cx="169.2" cy="583.4" r="2.15"/><circle cx="171.2" cy="579.9" r="2.15"/><circle cx="172.2" cy="574.6" r="2.15"/><circle cx="173.2" cy="572.6" r="2.15"/><circle cx="172.4" cy="566.9" r="2.15"/><circle cx="172.6" cy="563.4" r="2.15"/><circle cx="173.3" cy="559.4" r="2.15"/><circle cx="174.7" cy="558.0" r="2.15"/><circle cx="173.9" cy="553.7" r="2.15"/><circle cx="175.7" cy="549.2" r="2.15"/><circle cx="177.4" cy="545.2" r="2.15"/><circle cx="178.0" cy="540.5" r="2.15"/><circle cx="179.2" cy="537.2" r="2.15"/><circle cx="177.5" cy="535.4" r="2.15"/><circle cx="180.2" cy="531.4" r="2.15"/><circle cx="181.2" cy="527.0" r="2.15"/><circle cx="180.3" cy="523.3" r="2.15"/><circle cx="183.7" cy="521.1" r="2.15"/><circle cx="183.1" cy="515.8" r="2.15"/><circle cx="184.9" cy="513.1" r="2.15"/><circle cx="185.5" cy="509.4" r="2.15"/></g>
<g fill="#a0a0a0"><circle cx="137.5" cy="580.7" r="2.15"/><circle cx="141.2" cy="579.3" r="2.15"/><circle cx="145.5" cy="588.8" r="2.15"/><circle cx="152.8" cy="593.9" r="2.15"/><circle cx="158.0" cy="593.9" r="2.15"/><circle cx="139.7" cy="567.6" r="2.15"/><circle cx="147.0" cy="569.0" r="2.15"/><circle cx="187.9" cy="573.4" r="2.15"/><circle cx="193.0" cy="572.0" r="2.15"/><circle cx="191.5" cy="580.7" r="2.15"/><circle cx="198.8" cy="567.6" r="2.15"/><circle cx="201.8" cy="576.4" r="2.15"/><circle cx="203.2" cy="582.2" r="2.15"/><circle cx="189.3" cy="585.1" r="2.15"/><circle cx="191.5" cy="588.8" r="2.15"/><circle cx="181.3" cy="595.3" r="2.15"/><circle cx="182.8" cy="592.4" r="2.15"/><circle cx="144.0" cy="572.0" r="2.15"/></g>
<g fill="#000"><circle cx="129.3" cy="496.6" r="2.15"/><circle cx="124.0" cy="498.5" r="2.15"/><circle cx="126.5" cy="499.9" r="2.15"/><circle cx="131.7" cy="498.3" r="2.15"/><circle cx="134.6" cy="499.3" r="2.15"/><circle cx="138.7" cy="499.8" r="2.15"/><circle cx="114.6" cy="502.1" r="2.15"/><circle cx="121.7" cy="502.7" r="2.15"/><circle cx="126.1" cy="502.5" r="2.15"/><circle cx="128.3" cy="501.5" r="2.15"/><circle cx="135.5" cy="502.6" r="2.15"/><circle cx="117.2" cy="504.9" r="2.15"/><circle cx="120.4" cy="505.7" r="2.15"/><circle cx="123.5" cy="506.2" r="2.15"/><circle cx="126.7" cy="505.7" r="2.15"/><circle cx="138.4" cy="504.9" r="2.15"/><circle cx="140.8" cy="504.8" r="2.15"/><circle cx="114.7" cy="507.9" r="2.15"/><circle cx="117.7" cy="508.8" r="2.15"/><circle cx="129.7" cy="509.1" r="2.15"/><circle cx="132.8" cy="509.3" r="2.15"/><circle cx="136.2" cy="508.8" r="2.15"/><circle cx="140.2" cy="509.0" r="2.15"/><circle cx="112.8" cy="511.8" r="2.15"/><circle cx="126.8" cy="511.8" r="2.15"/><circle cx="131.3" cy="512.0" r="2.15"/><circle cx="134.4" cy="511.8" r="2.15"/><circle cx="137.4" cy="511.6" r="2.15"/><circle cx="115.0" cy="515.2" r="2.15"/><circle cx="121.5" cy="514.6" r="2.15"/><circle cx="129.0" cy="514.2" r="2.15"/><circle cx="140.2" cy="514.6" r="2.15"/><circle cx="112.8" cy="518.1" r="2.15"/><circle cx="119.4" cy="517.3" r="2.15"/><circle cx="127.1" cy="518.3" r="2.15"/><circle cx="137.8" cy="518.5" r="2.15"/><circle cx="113.9" cy="521.7" r="2.15"/><circle cx="129.7" cy="521.9" r="2.15"/><circle cx="133.2" cy="521.6" r="2.15"/><circle cx="135.6" cy="521.8" r="2.15"/><circle cx="139.9" cy="521.8" r="2.15"/><circle cx="112.4" cy="524.5" r="2.15"/><circle cx="123.6" cy="523.6" r="2.15"/><circle cx="135.3" cy="523.8" r="2.15"/><circle cx="138.1" cy="524.6" r="2.15"/><circle cx="114.5" cy="527.6" r="2.15"/><circle cx="117.7" cy="527.0" r="2.15"/><circle cx="121.2" cy="527.2" r="2.15"/><circle cx="132.8" cy="527.2" r="2.15"/><circle cx="113.6" cy="530.9" r="2.15"/><circle cx="117.2" cy="530.6" r="2.15"/><circle cx="119.9" cy="530.0" r="2.15"/><circle cx="123.8" cy="530.7" r="2.15"/><circle cx="130.9" cy="530.2" r="2.15"/><circle cx="138.7" cy="530.5" r="2.15"/><circle cx="141.9" cy="530.1" r="2.15"/><circle cx="111.9" cy="533.2" r="2.15"/><circle cx="114.6" cy="532.8" r="2.15"/><circle cx="117.6" cy="534.2" r="2.15"/><circle cx="125.9" cy="534.4" r="2.15"/><circle cx="129.9" cy="533.0" r="2.15"/><circle cx="131.7" cy="533.6" r="2.15"/><circle cx="112.6" cy="537.5" r="2.15"/><circle cx="119.4" cy="536.6" r="2.15"/><circle cx="123.2" cy="536.2" r="2.15"/><circle cx="127.2" cy="536.6" r="2.15"/><circle cx="130.8" cy="536.4" r="2.15"/><circle cx="134.9" cy="536.1" r="2.15"/><circle cx="137.9" cy="536.3" r="2.15"/><circle cx="114.3" cy="539.1" r="2.15"/><circle cx="117.8" cy="539.4" r="2.15"/><circle cx="125.4" cy="540.3" r="2.15"/><circle cx="129.2" cy="540.6" r="2.15"/><circle cx="132.6" cy="539.4" r="2.15"/><circle cx="136.1" cy="539.7" r="2.15"/><circle cx="140.6" cy="539.0" r="2.15"/><circle cx="117.0" cy="543.8" r="2.15"/><circle cx="120.4" cy="543.7" r="2.15"/><circle cx="126.8" cy="543.7" r="2.15"/><circle cx="131.1" cy="543.2" r="2.15"/><circle cx="134.1" cy="543.6" r="2.15"/><circle cx="137.2" cy="542.9" r="2.15"/><circle cx="121.1" cy="545.5" r="2.15"/><circle cx="125.7" cy="546.7" r="2.15"/><circle cx="129.2" cy="545.3" r="2.15"/><circle cx="132.5" cy="545.8" r="2.15"/><circle cx="136.0" cy="545.6" r="2.15"/><circle cx="139.9" cy="545.3" r="2.15"/><circle cx="127.2" cy="549.1" r="2.15"/><circle cx="130.1" cy="549.5" r="2.15"/><circle cx="134.7" cy="549.4" r="2.15"/><circle cx="142.5" cy="549.7" r="2.15"/><circle cx="128.7" cy="552.9" r="2.15"/><circle cx="133.4" cy="552.3" r="2.15"/><circle cx="136.1" cy="551.5" r="2.15"/><circle cx="127.5" cy="555.8" r="2.15"/><circle cx="133.8" cy="555.4" r="2.15"/><circle cx="138.8" cy="555.5" r="2.15"/><circle cx="140.8" cy="554.7" r="2.15"/><circle cx="129.8" cy="558.3" r="2.15"/><circle cx="136.6" cy="559.5" r="2.15"/><circle cx="139.1" cy="558.7" r="2.15"/><circle cx="130.5" cy="562.7" r="2.15"/><circle cx="134.7" cy="562.2" r="2.15"/><circle cx="141.3" cy="562.7" r="2.15"/></g>
<g fill="#000"><circle cx="200.7" cy="500.3" r="2.15"/><circle cx="204.2" cy="500.2" r="2.15"/><circle cx="207.4" cy="500.6" r="2.15"/><circle cx="196.8" cy="502.8" r="2.15"/><circle cx="198.8" cy="503.7" r="2.15"/><circle cx="203.6" cy="503.5" r="2.15"/><circle cx="207.4" cy="502.9" r="2.15"/><circle cx="198.4" cy="506.3" r="2.15"/><circle cx="200.4" cy="505.6" r="2.15"/><circle cx="204.0" cy="505.7" r="2.15"/><circle cx="207.9" cy="506.4" r="2.15"/><circle cx="199.8" cy="509.4" r="2.15"/><circle cx="203.4" cy="508.6" r="2.15"/><circle cx="198.4" cy="512.7" r="2.15"/><circle cx="200.4" cy="511.9" r="2.15"/><circle cx="207.9" cy="512.5" r="2.15"/><circle cx="199.6" cy="514.8" r="2.15"/><circle cx="203.7" cy="515.1" r="2.15"/><circle cx="207.4" cy="515.3" r="2.15"/><circle cx="209.2" cy="514.6" r="2.15"/><circle cx="198.3" cy="518.2" r="2.15"/><circle cx="201.0" cy="519.2" r="2.15"/><circle cx="205.6" cy="519.0" r="2.15"/><circle cx="208.6" cy="518.6" r="2.15"/><circle cx="202.6" cy="521.4" r="2.15"/><circle cx="207.2" cy="522.0" r="2.15"/><circle cx="210.3" cy="521.6" r="2.15"/><circle cx="198.2" cy="524.5" r="2.15"/><circle cx="201.3" cy="523.5" r="2.15"/><circle cx="208.8" cy="524.1" r="2.15"/><circle cx="198.7" cy="527.9" r="2.15"/><circle cx="202.3" cy="527.4" r="2.15"/><circle cx="206.1" cy="528.1" r="2.15"/><circle cx="198.2" cy="530.0" r="2.15"/><circle cx="202.1" cy="530.8" r="2.15"/><circle cx="204.8" cy="529.8" r="2.15"/><circle cx="202.2" cy="533.1" r="2.15"/><circle cx="197.7" cy="537.1" r="2.15"/><circle cx="200.7" cy="535.9" r="2.15"/><circle cx="204.6" cy="536.5" r="2.15"/><circle cx="199.0" cy="539.1" r="2.15"/><circle cx="202.9" cy="539.2" r="2.15"/><circle cx="202.0" cy="543.3" r="2.15"/><circle cx="204.7" cy="542.2" r="2.15"/></g>
<g fill="#000"><circle cx="42.7" cy="503.4" r="2.15"/><circle cx="100.1" cy="477.1" r="2.15"/><circle cx="110.6" cy="482.1" r="2.15"/><circle cx="97.4" cy="486.5" r="2.15"/><circle cx="116.7" cy="486.5" r="2.15"/><circle cx="106.2" cy="512.8" r="2.15"/><circle cx="85.8" cy="530.7" r="2.15"/><circle cx="81.0" cy="540.6" r="2.15"/><circle cx="95.7" cy="543.4" r="2.15"/><circle cx="111.7" cy="556.6" r="2.15"/><circle cx="127.0" cy="559.2" r="2.15"/><circle cx="129.2" cy="561.4" r="2.15"/><circle cx="117.1" cy="549.3" r="2.15"/><circle cx="122.6" cy="550.0" r="2.15"/><circle cx="112.0" cy="492.0" r="2.15"/><circle cx="118.0" cy="494.0" r="2.15"/><circle cx="108.0" cy="520.0" r="2.15"/><circle cx="110.0" cy="530.0" r="2.15"/><circle cx="106.0" cy="538.0" r="2.15"/><circle cx="118.0" cy="568.0" r="2.15"/><circle cx="124.0" cy="566.0" r="2.15"/><circle cx="269.3" cy="494.5" r="2.15"/><circle cx="245.7" cy="497.4" r="2.15"/><circle cx="249.3" cy="501.1" r="2.15"/><circle cx="241.3" cy="506.2" r="2.15"/><circle cx="224.5" cy="507.7" r="2.15"/><circle cx="223.8" cy="509.1" r="2.15"/><circle cx="206.0" cy="498.2" r="2.15"/><circle cx="211.4" cy="501.8" r="2.15"/><circle cx="215.8" cy="501.8" r="2.15"/><circle cx="219.4" cy="501.8" r="2.15"/><circle cx="223.1" cy="501.8" r="2.15"/><circle cx="211.4" cy="507.7" r="2.15"/><circle cx="218.7" cy="521.8" r="2.15"/><circle cx="235.2" cy="530.0" r="2.15"/><circle cx="216.2" cy="535.0" r="2.15"/><circle cx="206.0" cy="541.2" r="2.15"/><circle cx="196.1" cy="547.8" r="2.15"/><circle cx="207.7" cy="549.3" r="2.15"/><circle cx="208.5" cy="551.5" r="2.15"/><circle cx="203.4" cy="554.4" r="2.15"/><circle cx="202.6" cy="557.3" r="2.15"/><circle cx="197.0" cy="552.0" r="2.15"/><circle cx="199.0" cy="558.0" r="2.15"/><circle cx="212.0" cy="518.0" r="2.15"/><circle cx="214.0" cy="524.0" r="2.15"/><circle cx="200.0" cy="536.0" r="2.15"/></g>
<g fill="#f47f7f"><circle cx="95.2" cy="477.1" r="2.15"/><circle cx="86.5" cy="481.9" r="2.15"/><circle cx="106.2" cy="481.9" r="2.15"/><circle cx="115.0" cy="490.9" r="2.15"/><circle cx="121.5" cy="490.9" r="2.15"/><circle cx="100.1" cy="495.3" r="2.15"/><circle cx="121.2" cy="501.3" r="2.15"/><circle cx="114.2" cy="505.4" r="2.15"/><circle cx="131.7" cy="501.2" r="2.15"/><circle cx="137.3" cy="501.9" r="2.15"/><circle cx="129.9" cy="506.1" r="2.15"/><circle cx="139.6" cy="505.4" r="2.15"/><circle cx="111.2" cy="512.2" r="2.15"/><circle cx="130.8" cy="516.2" r="2.15"/><circle cx="138.7" cy="517.1" r="2.15"/><circle cx="121.5" cy="520.1" r="2.15"/><circle cx="136.9" cy="521.5" r="2.15"/><circle cx="114.5" cy="524.6" r="2.15"/><circle cx="125.9" cy="530.9" r="2.15"/><circle cx="134.0" cy="530.9" r="2.15"/><circle cx="128.2" cy="541.1" r="2.15"/><circle cx="134.7" cy="545.5" r="2.15"/><circle cx="55.2" cy="527.4" r="2.15"/><circle cx="201.2" cy="523.7" r="2.15"/><circle cx="224.1" cy="522.3" r="2.15"/><circle cx="213.3" cy="536.1" r="2.15"/></g>
<g fill="#1a96b4"><circle cx="72.3" cy="492.8" r="2.15"/></g>
<text x="91.5" y="478.6" font-size="7.2" text-anchor="end" fill="#333">icsP</text>
<text x="83.9" y="483.6" font-size="7.2" text-anchor="end" fill="#333">ipaA</text>
<text x="105.8" y="478.6" font-size="7.2" fill="#333">virB</text>
<text x="100.7" y="488.7" font-size="7.2" fill="#333">ipaD</text>
<text x="69.6" y="494.6" font-size="7.2" text-anchor="end" fill="#333">mnmG</text>
<text x="95.7" y="496.8" font-size="7.2" text-anchor="end" fill="#333">ospF</text>
<text x="106.6" y="496.8" font-size="7.2" fill="#333">ipaC</text>
<text x="111.7" y="503.4" font-size="7.2" text-anchor="end" fill="#333">ospC2</text>
<text x="87.6" y="509.9" font-size="7.2" text-anchor="end" fill="#333">phoN2</text>
<text x="87.6" y="516.5" font-size="7.2" text-anchor="end" fill="#333">spa24</text>
<text x="87.6" y="523.0" font-size="7.2" text-anchor="end" fill="#333">spa-orf10</text>
<text x="51.0" y="530.5" font-size="7.2" text-anchor="end" fill="#333">mxiH</text>
<text x="107.3" y="527.9" font-size="7.2" text-anchor="end" fill="#333">ipgB2</text>
<text x="108.4" y="535.1" font-size="7.2" text-anchor="end" fill="#333">ipaB</text>
<text x="102.9" y="550.9" font-size="7.2" text-anchor="end" fill="#333">spa33</text>
<text x="108.8" y="563.1" font-size="7.2" text-anchor="end" fill="#333">pWR501_0205</text>
<text x="120.0" y="568.0" font-size="7.2" text-anchor="end" fill="#333">spa13</text>
<text x="129.1" y="477.2" font-size="7.2" fill="#333">mxiA</text>
<text x="136.7" y="483.5" font-size="7.2" fill="#333">ospC3</text>
<text x="133.8" y="494.3" font-size="7.2" fill="#333">icsB</text>
<text x="146.9" y="497.7" font-size="7.2" fill="#333">spa47</text>
<text x="146.9" y="503.8" font-size="7.2" fill="#333">mxiN</text>
<text x="146.9" y="509.3" font-size="7.2" fill="#333">orf13</text>
<text x="146.2" y="515.9" font-size="7.2" fill="#333">ospD2</text>
<text x="149.1" y="523.5" font-size="7.2" fill="#333">mxiC</text>
<text x="144.0" y="529.8" font-size="7.2" fill="#333">ipgA</text>
<text x="214.3" y="517.4" font-size="7.2" fill="#333">traX</text>
<text x="227.4" y="524.5" font-size="7.2" fill="#333">phoN1</text>
<text x="211.8" y="544.2" font-size="7.2" fill="#333">EKN05_024355</text>
<path d="M131.0,479.0 L121.2,501.3" fill="none" stroke="#f38b8b" stroke-width="0.6"/>
<path d="M138.0,485.0 L122.0,503.0" fill="none" stroke="#f38b8b" stroke-width="0.6"/>
<path d="M140.0,496.0 L131.7,501.2" fill="none" stroke="#f38b8b" stroke-width="0.6"/>
<path d="M146.0,496.0 L137.3,501.9" fill="none" stroke="#f38b8b" stroke-width="0.6"/>
<path d="M146.0,502.0 L139.6,505.4" fill="none" stroke="#f38b8b" stroke-width="0.6"/>
<path d="M146.0,507.0 L130.8,510.0" fill="none" stroke="#f38b8b" stroke-width="0.6"/>
<path d="M146.0,514.0 L130.8,516.2" fill="none" stroke="#f38b8b" stroke-width="0.6"/>
<path d="M148.0,521.0 L138.7,517.1" fill="none" stroke="#f38b8b" stroke-width="0.6"/>
<path d="M143.0,527.0 L136.9,521.5" fill="none" stroke="#f38b8b" stroke-width="0.6"/>
<path d="M88.0,508.0 L111.2,512.2" fill="none" stroke="#f38b8b" stroke-width="0.6"/>
<path d="M88.0,514.5 L121.5,520.0" fill="none" stroke="#f38b8b" stroke-width="0.6"/>
<path d="M88.0,521.0 L121.5,520.0" fill="none" stroke="#f38b8b" stroke-width="0.6"/>
<path d="M108.0,526.0 L114.5,524.6" fill="none" stroke="#f38b8b" stroke-width="0.6"/>
<path d="M109.0,533.0 L125.9,530.9" fill="none" stroke="#f38b8b" stroke-width="0.6"/>
<path d="M103.0,549.0 L134.0,530.9" fill="none" stroke="#f38b8b" stroke-width="0.6"/>
<path d="M109.0,561.0 L128.2,541.1" fill="none" stroke="#f38b8b" stroke-width="0.6"/>
<path d="M120.0,566.0 L134.7,545.5" fill="none" stroke="#f38b8b" stroke-width="0.6"/>
<path d="M214.0,515.0 L201.2,523.7" fill="none" stroke="#f38b8b" stroke-width="0.6"/>
<text x="308.0" y="219.3" font-size="14.5" fill="#000" font-weight="bold">e</text>
<text x="411.1" y="219.5" font-size="10.3" text-anchor="middle">Δ<tspan font-style="italic">mnmE</tspan>–WT</text>
<line x1="360.5" y1="225.7" x2="460.8" y2="225.7" stroke="#555" stroke-width="0.9"/>
<line x1="460.8" y1="225.7" x2="460.8" y2="385.1" stroke="#888" stroke-width="0.8"/>
<line x1="360.5" y1="225.7" x2="360.5" y2="389.5" stroke="#777" stroke-width="0.9"/>
<line x1="356.0" y1="385.1" x2="460.8" y2="385.1" stroke="#444" stroke-width="0.9"/>
<line x1="410.7" y1="225.7" x2="410.7" y2="385.1" stroke="#888" stroke-width="0.7" stroke-dasharray="1,1.6"/>
<line x1="430.7" y1="225.7" x2="430.7" y2="385.1" stroke="#888" stroke-width="0.7" stroke-dasharray="1,1.6"/>
<line x1="360.5" y1="385.1" x2="360.5" y2="389.5" stroke="#888" stroke-width="0.9"/>
<text x="360.5" y="401.5" font-size="10" text-anchor="middle">−3</text>
<line x1="380.6" y1="385.1" x2="380.6" y2="389.5" stroke="#888" stroke-width="0.9"/>
<text x="380.6" y="401.5" font-size="10" text-anchor="middle">−2</text>
<line x1="400.6" y1="385.1" x2="400.6" y2="389.5" stroke="#888" stroke-width="0.9"/>
<text x="400.6" y="401.5" font-size="10" text-anchor="middle">−1</text>
<line x1="420.7" y1="385.1" x2="420.7" y2="389.5" stroke="#888" stroke-width="0.9"/>
<text x="420.7" y="401.5" font-size="10" text-anchor="middle">0</text>
<line x1="440.8" y1="385.1" x2="440.8" y2="389.5" stroke="#888" stroke-width="0.9"/>
<text x="440.8" y="401.5" font-size="10" text-anchor="middle">1</text>
<line x1="460.8" y1="385.1" x2="460.8" y2="389.5" stroke="#888" stroke-width="0.9"/>
<text x="460.8" y="401.5" font-size="10" text-anchor="middle">2</text>
<line x1="356.0" y1="385.1" x2="360.5" y2="385.1" stroke="#777" stroke-width="0.9"/>
<text x="352.0" y="388.6" font-size="10" text-anchor="end">0</text>
<line x1="356.0" y1="345.2" x2="360.5" y2="345.2" stroke="#777" stroke-width="0.9"/>
<text x="352.0" y="348.8" font-size="10" text-anchor="end">0.2</text>
<line x1="356.0" y1="305.4" x2="360.5" y2="305.4" stroke="#777" stroke-width="0.9"/>
<text x="352.0" y="308.9" font-size="10" text-anchor="end">0.4</text>
<line x1="356.0" y1="265.6" x2="360.5" y2="265.6" stroke="#777" stroke-width="0.9"/>
<text x="352.0" y="269.1" font-size="10" text-anchor="end">0.6</text>
<line x1="356.0" y1="225.7" x2="360.5" y2="225.7" stroke="#777" stroke-width="0.9"/>
<text x="352.0" y="229.2" font-size="10" text-anchor="end">0.8</text>
<text x="409.6" y="415.7" font-size="10.6" text-anchor="middle">log<tspan font-size="7" dy="2.5">2</tspan><tspan dy="-2.5">FC</tspan></text>
<text x="317.2" y="306.5" font-size="10.9" text-anchor="middle" transform="rotate(-90 317.2 306.5)">Fraction AGA codons/</text>
<text x="330.5" y="306.5" font-size="10.9" text-anchor="middle" transform="rotate(-90 330.5 306.5)">total Arg codons</text>
<path d="M411.5,344.0 L430.0,344.0 L430.5,385.0 L411.5,385.0 Z" fill="#a0a0a0"/>
<g fill="#a0a0a0"><circle cx="410.8" cy="344.0" r="2.15"/><circle cx="414.3" cy="344.8" r="2.15"/><circle cx="418.2" cy="344.1" r="2.15"/><circle cx="423.7" cy="343.7" r="2.15"/><circle cx="427.5" cy="344.6" r="2.15"/><circle cx="430.1" cy="344.3" r="2.15"/><circle cx="430.3" cy="347.1" r="2.15"/><circle cx="431.4" cy="350.6" r="2.15"/><circle cx="431.4" cy="355.2" r="2.15"/><circle cx="428.9" cy="357.0" r="2.15"/><circle cx="430.2" cy="361.9" r="2.15"/><circle cx="429.4" cy="364.8" r="2.15"/><circle cx="429.9" cy="368.7" r="2.15"/><circle cx="431.4" cy="372.0" r="2.15"/><circle cx="429.6" cy="375.4" r="2.15"/><circle cx="430.3" cy="379.0" r="2.15"/><circle cx="430.4" cy="382.6" r="2.15"/><circle cx="431.8" cy="385.8" r="2.15"/><circle cx="427.5" cy="385.8" r="2.15"/><circle cx="423.1" cy="384.2" r="2.15"/><circle cx="420.4" cy="384.9" r="2.15"/><circle cx="414.0" cy="384.8" r="2.15"/><circle cx="411.3" cy="384.2" r="2.15"/><circle cx="412.7" cy="380.6" r="2.15"/><circle cx="412.6" cy="378.3" r="2.15"/><circle cx="410.7" cy="374.4" r="2.15"/><circle cx="411.4" cy="370.3" r="2.15"/><circle cx="412.2" cy="368.3" r="2.15"/><circle cx="412.8" cy="365.4" r="2.15"/><circle cx="412.2" cy="362.4" r="2.15"/><circle cx="412.6" cy="358.0" r="2.15"/><circle cx="411.6" cy="354.3" r="2.15"/><circle cx="412.3" cy="351.9" r="2.15"/><circle cx="412.4" cy="348.3" r="2.15"/></g>
<g fill="#a0a0a0"><circle cx="421.3" cy="235.2" r="2.15"/><circle cx="425.6" cy="235.2" r="2.15"/><circle cx="420.9" cy="258.1" r="2.15"/><circle cx="414.1" cy="268.1" r="2.15"/><circle cx="411.8" cy="285.3" r="2.15"/><circle cx="423.5" cy="293.3" r="2.15"/><circle cx="426.4" cy="293.7" r="2.15"/><circle cx="414.7" cy="304.6" r="2.15"/><circle cx="419.1" cy="310.8" r="2.15"/><circle cx="424.2" cy="310.1" r="2.15"/><circle cx="430.8" cy="310.1" r="2.15"/><circle cx="412.5" cy="318.1" r="2.15"/><circle cx="416.9" cy="318.1" r="2.15"/><circle cx="421.3" cy="315.6" r="2.15"/><circle cx="425.7" cy="317.0" r="2.15"/><circle cx="430.0" cy="318.5" r="2.15"/><circle cx="425.7" cy="322.9" r="2.15"/><circle cx="413.2" cy="325.8" r="2.15"/><circle cx="416.9" cy="325.1" r="2.15"/><circle cx="424.2" cy="328.0" r="2.15"/><circle cx="422.7" cy="319.2" r="2.15"/><circle cx="419.8" cy="318.5" r="2.15"/><circle cx="420.5" cy="310.7" r="2.15"/><circle cx="423.6" cy="310.7" r="2.15"/><circle cx="430.5" cy="310.0" r="2.15"/><circle cx="412.1" cy="317.6" r="2.15"/><circle cx="418.2" cy="315.3" r="2.15"/><circle cx="427.4" cy="316.1" r="2.15"/><circle cx="424.4" cy="322.2" r="2.15"/><circle cx="412.9" cy="325.3" r="2.15"/><circle cx="416.7" cy="326.8" r="2.15"/><circle cx="422.8" cy="327.6" r="2.15"/><circle cx="425.1" cy="329.9" r="2.15"/><circle cx="415.2" cy="331.4" r="2.15"/><circle cx="420.5" cy="335.3" r="2.15"/><circle cx="427.4" cy="336.8" r="2.15"/><circle cx="413.6" cy="340.2" r="2.15"/><circle cx="418.0" cy="338.0" r="2.15"/><circle cx="423.0" cy="340.0" r="2.15"/><circle cx="428.0" cy="341.0" r="2.15"/><circle cx="416.0" cy="343.0" r="2.15"/><circle cx="411.8" cy="333.0" r="2.15"/><circle cx="430.0" cy="330.0" r="2.15"/><circle cx="421.0" cy="331.0" r="2.15"/></g>
<g fill="#000"><circle cx="404.8" cy="330.7" r="2.15"/><circle cx="402.6" cy="344.9" r="2.15"/><circle cx="432.0" cy="344.9" r="2.15"/><circle cx="431.3" cy="352.1" r="2.15"/><circle cx="438.2" cy="352.1" r="2.15"/><circle cx="408.7" cy="349.8" r="2.15"/><circle cx="408.7" cy="354.4" r="2.15"/><circle cx="409.8" cy="359.8" r="2.15"/><circle cx="406.0" cy="364.4" r="2.15"/><circle cx="409.0" cy="365.9" r="2.15"/><circle cx="404.5" cy="367.4" r="2.15"/><circle cx="407.5" cy="370.5" r="2.15"/><circle cx="409.8" cy="372.0" r="2.15"/><circle cx="405.2" cy="374.3" r="2.15"/><circle cx="408.7" cy="375.1" r="2.15"/><circle cx="406.0" cy="379.7" r="2.15"/><circle cx="409.8" cy="380.5" r="2.15"/><circle cx="398.3" cy="380.5" r="2.15"/><circle cx="395.0" cy="371.6" r="2.15"/><circle cx="396.8" cy="362.8" r="2.15"/><circle cx="431.3" cy="364.4" r="2.15"/><circle cx="435.1" cy="365.1" r="2.15"/><circle cx="432.8" cy="368.2" r="2.15"/><circle cx="432.0" cy="375.1" r="2.15"/><circle cx="436.6" cy="375.1" r="2.15"/><circle cx="439.7" cy="376.6" r="2.15"/><circle cx="445.1" cy="375.1" r="2.15"/><circle cx="450.1" cy="372.8" r="2.15"/><circle cx="432.0" cy="379.7" r="2.15"/><circle cx="439.7" cy="379.7" r="2.15"/><circle cx="402.6" cy="305.5" r="2.15"/><circle cx="405.0" cy="339.0" r="2.15"/><circle cx="409.0" cy="342.0" r="2.15"/><circle cx="433.0" cy="358.0" r="2.15"/><circle cx="410.0" cy="385.0" r="2.15"/><circle cx="431.5" cy="385.0" r="2.15"/><circle cx="434.5" cy="382.0" r="2.15"/><circle cx="375.8" cy="385.0" r="2.15"/><circle cx="382.0" cy="385.0" r="2.15"/><circle cx="392.7" cy="385.0" r="2.15"/><circle cx="396.0" cy="385.0" r="2.15"/><circle cx="398.8" cy="385.0" r="2.15"/><circle cx="401.5" cy="385.0" r="2.15"/><circle cx="403.4" cy="385.0" r="2.15"/><circle cx="406.0" cy="385.0" r="2.15"/><circle cx="408.0" cy="385.0" r="2.15"/><circle cx="432.6" cy="385.0" r="2.15"/><circle cx="435.6" cy="385.0" r="2.15"/><circle cx="438.0" cy="385.0" r="2.15"/><circle cx="443.3" cy="385.0" r="2.15"/><circle cx="448.8" cy="385.0" r="2.15"/><circle cx="452.5" cy="385.0" r="2.15"/><circle cx="458.0" cy="385.0" r="2.15"/></g>
<g fill="#f47f7f"><circle cx="400.6" cy="235.4" r="2.15"/><circle cx="404.9" cy="239.9" r="2.15"/><circle cx="406.0" cy="252.1" r="2.15"/><circle cx="390.7" cy="261.5" r="2.15"/><circle cx="407.2" cy="270.7" r="2.15"/><circle cx="409.0" cy="274.0" r="2.15"/><circle cx="410.5" cy="277.0" r="2.15"/><circle cx="411.0" cy="280.0" r="2.15"/><circle cx="392.5" cy="285.2" r="2.15"/><circle cx="400.2" cy="285.2" r="2.15"/><circle cx="407.8" cy="285.2" r="2.15"/><circle cx="407.8" cy="290.9" r="2.15"/><circle cx="396.8" cy="296.3" r="2.15"/><circle cx="402.9" cy="297.8" r="2.15"/><circle cx="393.7" cy="305.0" r="2.15"/><circle cx="402.9" cy="303.9" r="2.15"/><circle cx="404.1" cy="318.7" r="2.15"/><circle cx="409.4" cy="320.7" r="2.15"/><circle cx="408.3" cy="335.3" r="2.15"/><circle cx="440.8" cy="335.3" r="2.15"/><circle cx="396.8" cy="344.9" r="2.15"/><circle cx="406.0" cy="344.9" r="2.15"/><circle cx="399.5" cy="356.7" r="2.15"/><circle cx="400.2" cy="370.0" r="2.15"/><circle cx="434.3" cy="370.8" r="2.15"/><circle cx="404.9" cy="385.0" r="2.15"/><circle cx="438.2" cy="385.0" r="2.15"/></g>
<line x1="360.5" y1="347.4" x2="460.0" y2="347.4" stroke="#1f7d1f" stroke-width="1.2" stroke-dasharray="3,2.2"/>
<line x1="360.5" y1="377.4" x2="460.0" y2="377.4" stroke="#2ec52e" stroke-width="1.2" stroke-dasharray="3,2.2"/>
<text x="465.2" y="351.6" font-size="12" fill="#1f7d1f">pINV</text>
<text x="465.2" y="381.6" font-size="12" fill="#2ec52e">chr</text>
<text x="397.6" y="237.0" font-size="7.2" text-anchor="end" fill="#333">ipaD</text>
<text x="401.1" y="241.9" font-size="7.2" text-anchor="end" fill="#333">ipaB</text>
<text x="401.7" y="254.1" font-size="7.2" text-anchor="end" fill="#333">spa-orf10</text>
<text x="387.6" y="263.3" font-size="7.2" text-anchor="end" fill="#333">ipaA</text>
<text x="404.5" y="271.8" font-size="7.2" text-anchor="end" fill="#333">ospD2</text>
<text x="412.1" y="274.4" font-size="7.2" fill="#333">spa13</text>
<text x="384.5" y="277.9" font-size="7.2" text-anchor="end" fill="#333">ospC2</text>
<text x="406.0" y="279.4" font-size="7.2" text-anchor="end" fill="#333">mxiN</text>
<text x="413.6" y="281.0" font-size="7.2" fill="#333">mxiC</text>
<text x="389.9" y="287.1" font-size="7.2" text-anchor="end" fill="#333">mxiH</text>
<text x="413.6" y="287.5" font-size="7.2" fill="#333">ipgA</text>
<text x="402.9" y="292.4" font-size="7.2" text-anchor="end" fill="#333">icsB</text>
<text x="393.4" y="298.1" font-size="7.2" text-anchor="end" fill="#333">virB</text>
<text x="405.7" y="300.1" font-size="7.2" fill="#333">OspC3</text>
<text x="391.4" y="307.0" font-size="7.2" text-anchor="end" fill="#333">icsP</text>
<text x="406.0" y="306.2" font-size="7.2" fill="#333">mxiA</text>
<text x="401.4" y="317.6" font-size="7.2" text-anchor="end" fill="#333">ipaC</text>
<text x="406.7" y="325.3" font-size="7.2" text-anchor="end" fill="#333">spa47</text>
<text x="401.7" y="333.0" font-size="7.2" text-anchor="end" fill="#333">ospF</text>
<text x="410.6" y="336.8" font-size="7.2" fill="#333">spa33</text>
<text x="438.9" y="341.4" font-size="7.2" fill="#333">phoN1</text>
<text x="408.7" y="344.5" font-size="7.2" fill="#333">orf13</text>
<text x="395.6" y="357.0" font-size="7.2" text-anchor="end" fill="#333">ipgB2</text>
<text x="412.1" y="359.0" font-size="7.2" fill="#333">EKN05_024355</text>
<text x="392.5" y="364.4" font-size="7.2" text-anchor="end" fill="#333">phoN2</text>
<text x="442.8" y="368.2" font-size="7.2" fill="#333">traX</text>
<path d="M384.5,278.5 L396.0,283.5" fill="none" stroke="#f38b8b" stroke-width="0.6"/>
<path d="M396.0,334.5 L396.8,344.0" fill="none" stroke="#f38b8b" stroke-width="0.6"/>
<path d="M419.0,360.0 L434.3,384.0" fill="none" stroke="#f38b8b" stroke-width="0.6"/>
<path d="M392.0,366.0 L399.0,369.0" fill="none" stroke="#f38b8b" stroke-width="0.6"/>
<path d="M442.0,366.0 L435.0,370.0" fill="none" stroke="#f38b8b" stroke-width="0.6"/>
<text x="308.4" y="449.7" font-size="14.5" fill="#000" font-weight="bold">f</text>
<text x="411.1" y="445.1" font-size="10.3" text-anchor="middle">Δ<tspan font-style="italic">mnmE</tspan>–WT</text>
<rect x="361.1" y="450.7" width="99.9" height="160.3" fill="none" stroke="#555" stroke-width="0.9"/>
<line x1="411.0" y1="450.7" x2="411.0" y2="611.0" stroke="#888" stroke-width="0.7" stroke-dasharray="1,1.6"/>
<line x1="431.0" y1="450.7" x2="431.0" y2="611.0" stroke="#888" stroke-width="0.7" stroke-dasharray="1,1.6"/>
<line x1="361.1" y1="611.0" x2="361.1" y2="615.5" stroke="#555" stroke-width="0.9"/>
<text x="361.1" y="627.0" font-size="10" text-anchor="middle">−3</text>
<line x1="381.0" y1="611.0" x2="381.0" y2="615.5" stroke="#555" stroke-width="0.9"/>
<text x="381.0" y="627.0" font-size="10" text-anchor="middle">−2</text>
<line x1="401.0" y1="611.0" x2="401.0" y2="615.5" stroke="#555" stroke-width="0.9"/>
<text x="401.0" y="627.0" font-size="10" text-anchor="middle">−1</text>
<line x1="421.0" y1="611.0" x2="421.0" y2="615.5" stroke="#555" stroke-width="0.9"/>
<text x="421.0" y="627.0" font-size="10" text-anchor="middle">0</text>
<line x1="441.0" y1="611.0" x2="441.0" y2="615.5" stroke="#555" stroke-width="0.9"/>
<text x="441.0" y="627.0" font-size="10" text-anchor="middle">1</text>
<line x1="461.0" y1="611.0" x2="461.0" y2="615.5" stroke="#555" stroke-width="0.9"/>
<text x="461.0" y="627.0" font-size="10" text-anchor="middle">2</text>
<line x1="356.6" y1="611.0" x2="361.1" y2="611.0" stroke="#555" stroke-width="0.9"/>
<text x="352.5" y="614.5" font-size="10" text-anchor="end">0</text>
<line x1="356.6" y1="578.9" x2="361.1" y2="578.9" stroke="#555" stroke-width="0.9"/>
<text x="352.5" y="582.4" font-size="10" text-anchor="end">0.2</text>
<line x1="356.6" y1="546.9" x2="361.1" y2="546.9" stroke="#555" stroke-width="0.9"/>
<text x="352.5" y="550.4" font-size="10" text-anchor="end">0.4</text>
<line x1="356.6" y1="514.8" x2="361.1" y2="514.8" stroke="#555" stroke-width="0.9"/>
<text x="352.5" y="518.3" font-size="10" text-anchor="end">0.6</text>
<line x1="356.6" y1="482.8" x2="361.1" y2="482.8" stroke="#555" stroke-width="0.9"/>
<text x="352.5" y="486.3" font-size="10" text-anchor="end">0.8</text>
<line x1="356.6" y1="450.7" x2="361.1" y2="450.7" stroke="#555" stroke-width="0.9"/>
<text x="352.5" y="454.2" font-size="10" text-anchor="end">1.0</text>
<text x="411.1" y="642.3" font-size="10.6" text-anchor="middle">log<tspan font-size="7" dy="2.5">2</tspan><tspan dy="-2.5">FC</tspan></text>
<text x="318.5" y="533.2" font-size="10.9" text-anchor="middle" transform="rotate(-90 318.5 533.2)">Fraction GGA codons/</text>
<text x="330.8" y="533.2" font-size="10.9" text-anchor="middle" transform="rotate(-90 330.8 533.2)">total Gly codons</text>
<path d="M413.0,534.0 L418.0,531.0 L425.0,531.0 L430.5,533.0 L430.5,611.0 L412.0,611.0 L412.0,545.0 Z" fill="#a0a0a0"/>
<g fill="#a0a0a0"><circle cx="413.0" cy="534.1" r="2.15"/><circle cx="418.8" cy="530.5" r="2.15"/><circle cx="421.0" cy="531.5" r="2.15"/><circle cx="425.0" cy="530.6" r="2.15"/><circle cx="430.3" cy="532.6" r="2.15"/><circle cx="429.6" cy="536.6" r="2.15"/><circle cx="431.5" cy="540.0" r="2.15"/><circle cx="430.9" cy="542.3" r="2.15"/><circle cx="430.3" cy="545.1" r="2.15"/><circle cx="431.1" cy="548.7" r="2.15"/><circle cx="430.0" cy="553.7" r="2.15"/><circle cx="430.1" cy="557.0" r="2.15"/><circle cx="430.8" cy="559.7" r="2.15"/><circle cx="430.8" cy="561.4" r="2.15"/><circle cx="431.1" cy="564.9" r="2.15"/><circle cx="430.3" cy="567.8" r="2.15"/><circle cx="429.4" cy="571.7" r="2.15"/><circle cx="429.2" cy="575.0" r="2.15"/><circle cx="431.4" cy="579.8" r="2.15"/><circle cx="430.3" cy="580.7" r="2.15"/><circle cx="430.1" cy="583.9" r="2.15"/><circle cx="429.8" cy="588.6" r="2.15"/><circle cx="430.8" cy="590.3" r="2.15"/><circle cx="430.5" cy="594.5" r="2.15"/><circle cx="430.2" cy="597.1" r="2.15"/><circle cx="430.2" cy="600.2" r="2.15"/><circle cx="431.0" cy="604.9" r="2.15"/><circle cx="430.8" cy="607.5" r="2.15"/><circle cx="431.7" cy="610.7" r="2.15"/><circle cx="426.0" cy="610.7" r="2.15"/><circle cx="424.2" cy="610.1" r="2.15"/><circle cx="420.1" cy="612.1" r="2.15"/><circle cx="416.6" cy="610.9" r="2.15"/><circle cx="411.9" cy="612.0" r="2.15"/><circle cx="412.5" cy="608.5" r="2.15"/><circle cx="411.2" cy="604.7" r="2.15"/><circle cx="412.6" cy="600.4" r="2.15"/><circle cx="411.2" cy="598.7" r="2.15"/><circle cx="412.2" cy="594.3" r="2.15"/><circle cx="412.0" cy="590.6" r="2.15"/><circle cx="411.3" cy="586.9" r="2.15"/><circle cx="411.7" cy="583.7" r="2.15"/><circle cx="413.0" cy="582.5" r="2.15"/><circle cx="412.2" cy="576.9" r="2.15"/><circle cx="412.3" cy="573.8" r="2.15"/><circle cx="411.7" cy="570.4" r="2.15"/><circle cx="412.0" cy="567.0" r="2.15"/><circle cx="411.4" cy="564.1" r="2.15"/><circle cx="411.9" cy="562.6" r="2.15"/><circle cx="412.2" cy="558.9" r="2.15"/><circle cx="412.6" cy="555.0" r="2.15"/><circle cx="410.9" cy="550.5" r="2.15"/><circle cx="411.0" cy="548.3" r="2.15"/><circle cx="411.6" cy="546.1" r="2.15"/><circle cx="411.6" cy="540.4" r="2.15"/><circle cx="413.0" cy="537.9" r="2.15"/></g>
<g fill="#a0a0a0"><circle cx="414.0" cy="451.4" r="2.15"/><circle cx="420.9" cy="451.4" r="2.15"/><circle cx="412.6" cy="483.0" r="2.15"/><circle cx="413.6" cy="491.0" r="2.15"/><circle cx="423.6" cy="491.0" r="2.15"/><circle cx="419.8" cy="504.5" r="2.15"/><circle cx="422.8" cy="504.5" r="2.15"/><circle cx="423.6" cy="515.2" r="2.15"/><circle cx="416.7" cy="531.0" r="2.15"/><circle cx="421.3" cy="531.0" r="2.15"/><circle cx="425.9" cy="531.0" r="2.15"/><circle cx="429.0" cy="531.0" r="2.15"/><circle cx="419.0" cy="536.1" r="2.15"/><circle cx="424.4" cy="536.1" r="2.15"/><circle cx="413.6" cy="541.5" r="2.15"/><circle cx="421.3" cy="539.9" r="2.15"/><circle cx="425.9" cy="543.0" r="2.15"/><circle cx="413.6" cy="545.3" r="2.15"/><circle cx="417.5" cy="546.1" r="2.15"/><circle cx="443.5" cy="571.3" r="2.15"/><circle cx="428.0" cy="538.0" r="2.15"/><circle cx="416.0" cy="540.0" r="2.15"/><circle cx="420.0" cy="544.0" r="2.15"/><circle cx="426.0" cy="547.0" r="2.15"/></g>
<g fill="#000"><circle cx="403.0" cy="566.6" r="2.15"/><circle cx="406.5" cy="565.4" r="2.15"/><circle cx="409.4" cy="566.3" r="2.15"/><circle cx="405.3" cy="568.6" r="2.15"/><circle cx="408.0" cy="569.5" r="2.15"/><circle cx="411.6" cy="568.2" r="2.15"/><circle cx="399.6" cy="571.4" r="2.15"/><circle cx="402.9" cy="572.0" r="2.15"/><circle cx="406.9" cy="572.8" r="2.15"/><circle cx="409.5" cy="571.8" r="2.15"/><circle cx="401.2" cy="574.5" r="2.15"/><circle cx="405.2" cy="575.4" r="2.15"/><circle cx="409.1" cy="574.3" r="2.15"/><circle cx="411.9" cy="575.5" r="2.15"/><circle cx="399.8" cy="577.9" r="2.15"/><circle cx="403.9" cy="579.1" r="2.15"/><circle cx="406.7" cy="577.6" r="2.15"/><circle cx="409.7" cy="578.5" r="2.15"/><circle cx="401.2" cy="581.3" r="2.15"/><circle cx="405.0" cy="581.9" r="2.15"/><circle cx="409.3" cy="581.1" r="2.15"/><circle cx="412.3" cy="581.3" r="2.15"/><circle cx="399.4" cy="583.4" r="2.15"/><circle cx="402.5" cy="583.9" r="2.15"/><circle cx="407.1" cy="585.1" r="2.15"/><circle cx="410.3" cy="584.0" r="2.15"/><circle cx="401.6" cy="587.6" r="2.15"/><circle cx="405.4" cy="587.4" r="2.15"/><circle cx="409.1" cy="586.5" r="2.15"/><circle cx="411.7" cy="587.7" r="2.15"/><circle cx="400.6" cy="589.7" r="2.15"/><circle cx="403.2" cy="590.8" r="2.15"/><circle cx="406.1" cy="590.8" r="2.15"/><circle cx="410.4" cy="591.1" r="2.15"/><circle cx="400.8" cy="594.0" r="2.15"/><circle cx="404.2" cy="594.2" r="2.15"/><circle cx="407.9" cy="594.1" r="2.15"/><circle cx="411.9" cy="592.6" r="2.15"/><circle cx="399.7" cy="596.9" r="2.15"/><circle cx="403.7" cy="596.8" r="2.15"/><circle cx="407.6" cy="596.5" r="2.15"/><circle cx="409.5" cy="597.2" r="2.15"/><circle cx="401.9" cy="600.0" r="2.15"/><circle cx="404.7" cy="600.3" r="2.15"/><circle cx="408.1" cy="600.4" r="2.15"/><circle cx="412.6" cy="599.7" r="2.15"/><circle cx="402.5" cy="602.2" r="2.15"/><circle cx="407.2" cy="602.8" r="2.15"/><circle cx="409.9" cy="602.8" r="2.15"/><circle cx="401.1" cy="605.3" r="2.15"/><circle cx="405.4" cy="605.6" r="2.15"/><circle cx="412.4" cy="605.4" r="2.15"/><circle cx="404.1" cy="608.8" r="2.15"/><circle cx="406.4" cy="608.8" r="2.15"/></g>
<g fill="#000"><circle cx="431.9" cy="569.9" r="2.15"/><circle cx="435.0" cy="568.8" r="2.15"/><circle cx="430.6" cy="572.0" r="2.15"/><circle cx="432.8" cy="571.8" r="2.15"/><circle cx="436.9" cy="571.6" r="2.15"/><circle cx="432.0" cy="574.9" r="2.15"/><circle cx="436.4" cy="577.4" r="2.15"/><circle cx="439.7" cy="578.5" r="2.15"/><circle cx="432.4" cy="582.0" r="2.15"/><circle cx="436.4" cy="584.9" r="2.15"/><circle cx="431.0" cy="588.2" r="2.15"/><circle cx="435.5" cy="586.8" r="2.15"/><circle cx="438.4" cy="587.5" r="2.15"/><circle cx="437.5" cy="590.4" r="2.15"/><circle cx="439.9" cy="591.0" r="2.15"/><circle cx="432.2" cy="594.2" r="2.15"/><circle cx="434.9" cy="593.4" r="2.15"/><circle cx="438.3" cy="594.0" r="2.15"/><circle cx="436.7" cy="595.7" r="2.15"/><circle cx="440.6" cy="596.2" r="2.15"/><circle cx="432.2" cy="599.7" r="2.15"/><circle cx="434.4" cy="599.2" r="2.15"/><circle cx="438.0" cy="598.8" r="2.15"/><circle cx="433.9" cy="602.8" r="2.15"/><circle cx="440.6" cy="602.0" r="2.15"/><circle cx="431.3" cy="605.4" r="2.15"/><circle cx="434.5" cy="606.1" r="2.15"/><circle cx="438.1" cy="605.8" r="2.15"/><circle cx="430.9" cy="609.0" r="2.15"/><circle cx="437.1" cy="608.0" r="2.15"/></g>
<g fill="#000"><circle cx="376.1" cy="606.3" r="2.15"/><circle cx="383.8" cy="587.4" r="2.15"/><circle cx="458.1" cy="598.2" r="2.15"/><circle cx="448.1" cy="594.3" r="2.15"/><circle cx="451.2" cy="602.8" r="2.15"/><circle cx="450.4" cy="610.4" r="2.15"/><circle cx="393.0" cy="581.0" r="2.15"/><circle cx="390.0" cy="604.0" r="2.15"/><circle cx="395.0" cy="598.0" r="2.15"/><circle cx="444.0" cy="596.0" r="2.15"/><circle cx="445.0" cy="605.0" r="2.15"/><circle cx="392.0" cy="611.0" r="2.15"/><circle cx="386.0" cy="611.0" r="2.15"/><circle cx="444.0" cy="611.0" r="2.15"/><circle cx="454.0" cy="611.0" r="2.15"/><circle cx="443.0" cy="586.0" r="2.15"/><circle cx="434.0" cy="557.0" r="2.15"/><circle cx="437.0" cy="558.0" r="2.15"/><circle cx="405.0" cy="566.0" r="2.15"/><circle cx="410.0" cy="560.0" r="2.15"/><circle cx="396.0" cy="592.0" r="2.15"/><circle cx="387.0" cy="604.0" r="2.15"/></g>
<g fill="#f47f7f"><circle cx="391.0" cy="512.1" r="2.15"/><circle cx="438.5" cy="491.0" r="2.15"/><circle cx="393.0" cy="531.0" r="2.15"/><circle cx="406.0" cy="531.0" r="2.15"/><circle cx="401.1" cy="536.4" r="2.15"/><circle cx="397.2" cy="539.9" r="2.15"/><circle cx="400.6" cy="545.0" r="2.15"/><circle cx="405.7" cy="552.2" r="2.15"/><circle cx="403.0" cy="548.0" r="2.15"/><circle cx="408.0" cy="557.0" r="2.15"/><circle cx="410.0" cy="562.0" r="2.15"/><circle cx="412.0" cy="566.0" r="2.15"/><circle cx="434.8" cy="558.0" r="2.15"/><circle cx="441.2" cy="582.8" r="2.15"/><circle cx="394.0" cy="571.0" r="2.15"/><circle cx="400.2" cy="571.0" r="2.15"/><circle cx="404.5" cy="571.0" r="2.15"/><circle cx="408.0" cy="575.0" r="2.15"/><circle cx="406.0" cy="580.0" r="2.15"/><circle cx="403.4" cy="584.0" r="2.15"/><circle cx="398.0" cy="588.0" r="2.15"/><circle cx="405.0" cy="592.0" r="2.15"/><circle cx="410.0" cy="600.0" r="2.15"/><circle cx="405.0" cy="611.0" r="2.15"/><circle cx="409.0" cy="611.0" r="2.15"/></g>
<line x1="361.1" y1="564.1" x2="460.5" y2="564.1" stroke="#1f7d1f" stroke-width="1.2" stroke-dasharray="3,2.2"/>
<line x1="361.1" y1="593.8" x2="460.5" y2="593.8" stroke="#2ec52e" stroke-width="1.2" stroke-dasharray="3,2.2"/>
<text x="463.2" y="568.0" font-size="12" fill="#1f7d1f">pINV</text>
<text x="463.2" y="597.5" font-size="12" fill="#2ec52e">chr</text>
<text x="393.7" y="499.4" font-size="7.2" fill="#333">EKN05_024355</text>
<text x="387.6" y="513.7" font-size="7.2" text-anchor="end" fill="#333">ipaA</text>
<text x="388.8" y="523.2" font-size="7.2" fill="#333">ipaD</text>
<text x="406.0" y="528.5" font-size="7.2" fill="#333">spa-orf10</text>
<text x="389.9" y="532.6" font-size="7.2" text-anchor="end" fill="#333">mxiH</text>
<text x="386.1" y="540.2" font-size="7.2" text-anchor="end" fill="#333">ospC2</text>
<text x="401.7" y="541.5" font-size="7.2" fill="#333">ospF</text>
<text x="386.8" y="545.3" font-size="7.2" text-anchor="end" fill="#333">ospC3</text>
<text x="416.4" y="545.3" font-size="7.2" fill="#333">spa47</text>
<text x="386.1" y="550.7" font-size="7.2" text-anchor="end" fill="#333">ipaB</text>
<text x="417.0" y="553.0" font-size="7.2" fill="#333">ospD2</text>
<text x="387.6" y="556.8" font-size="7.2" text-anchor="end" fill="#333">mxiA</text>
<text x="411.7" y="559.1" font-size="7.2" fill="#333">ipgA</text>
<text x="437.9" y="559.5" font-size="7.2" fill="#333">traX</text>
<text x="393.7" y="562.2" font-size="7.2" text-anchor="end" fill="#333">virB</text>
<text x="412.9" y="569.8" font-size="7.2" fill="#333">mxiC</text>
<text x="390.7" y="572.1" font-size="7.2" text-anchor="end" fill="#333">icsP</text>
<text x="414.0" y="574.4" font-size="7.2" fill="#333">spa13</text>
<text x="385.3" y="578.2" font-size="7.2" text-anchor="end" fill="#333">phoN2</text>
<text x="414.0" y="580.1" font-size="7.2" fill="#333">orf13</text>
<text x="381.5" y="584.1" font-size="7.2" text-anchor="end" fill="#333">ipaC</text>
<text x="414.4" y="587.4" font-size="7.2" fill="#333">icsB</text>
<text x="440.2" y="588.2" font-size="7.2" fill="#333">phoN1</text>
<text x="380.7" y="590.8" font-size="7.2" text-anchor="end" fill="#333">ipgB2</text>
<text x="392.2" y="598.9" font-size="7.2" text-anchor="end" fill="#333">spa33</text>
<text x="379.2" y="607.4" font-size="7.2" fill="#333">spa24</text>
<text x="413.6" y="607.4" font-size="7.2" fill="#333">mxiN</text>
<path d="M398.0,525.0 L401.0,536.0" fill="none" stroke="#f38b8b" stroke-width="0.6"/>
<path d="M386.0,538.0 L400.6,545.0" fill="none" stroke="#f38b8b" stroke-width="0.6"/>
<path d="M387.0,543.0 L403.0,548.0" fill="none" stroke="#f38b8b" stroke-width="0.6"/>
<path d="M386.0,548.0 L405.7,552.2" fill="none" stroke="#f38b8b" stroke-width="0.6"/>
<path d="M388.0,554.0 L408.0,557.0" fill="none" stroke="#f38b8b" stroke-width="0.6"/>
<path d="M386.0,576.0 L403.0,574.0" fill="none" stroke="#f38b8b" stroke-width="0.6"/>
<path d="M382.0,582.0 L400.0,580.0" fill="none" stroke="#f38b8b" stroke-width="0.6"/>
<path d="M381.0,589.0 L398.0,588.0" fill="none" stroke="#f38b8b" stroke-width="0.6"/>
<path d="M392.0,597.0 L405.0,599.0" fill="none" stroke="#f38b8b" stroke-width="0.6"/>
<path d="M379.0,605.0 L405.0,611.0" fill="none" stroke="#f38b8b" stroke-width="0.6"/>
<path d="M412.0,604.0 L409.0,611.0" fill="none" stroke="#f38b8b" stroke-width="0.6"/>
<text x="515.7" y="222.0" font-size="14.5" fill="#000" font-weight="bold">g</text>
<path d="M564.4,345.4 L564.4,225.1 L684.5,225.1 L684.5,345.4" fill="none" stroke="#444" stroke-width="0.9"/>
<rect x="571.0" y="343.4" width="12.6" height="2.0" fill="#a0a0a0"/>
<rect x="589.9" y="277.2" width="12.6" height="68.2" fill="#a0a0a0"/>
<rect x="608.7" y="272.2" width="12.6" height="73.2" fill="#a0a0a0"/>
<rect x="627.6" y="256.6" width="12.6" height="88.8" fill="#a0a0a0"/>
<rect x="646.4" y="257.0" width="12.6" height="88.4" fill="#a0a0a0"/>
<rect x="665.3" y="238.7" width="12.6" height="106.7" fill="#a0a0a0"/>
<line x1="596.2" y1="290.3" x2="596.2" y2="266.2" stroke="#333" stroke-width="0.9"/>
<line x1="615.0" y1="286.3" x2="615.0" y2="255.8" stroke="#333" stroke-width="0.9"/>
<line x1="633.9" y1="276.0" x2="633.9" y2="234.3" stroke="#333" stroke-width="0.9"/>
<line x1="652.7" y1="259.2" x2="652.7" y2="251.6" stroke="#333" stroke-width="0.9"/>
<line x1="671.6" y1="244.1" x2="671.6" y2="233.1" stroke="#333" stroke-width="0.9"/>
<circle cx="572.9" cy="343.4" r="2.3" fill="none" stroke="#333" stroke-width="0.8"/>
<circle cx="577.3" cy="343.4" r="2.3" fill="none" stroke="#333" stroke-width="0.8"/>
<circle cx="581.7" cy="343.4" r="2.3" fill="none" stroke="#333" stroke-width="0.8"/>
<circle cx="596.2" cy="266.2" r="2.3" fill="none" stroke="#333" stroke-width="0.8"/>
<circle cx="596.2" cy="273.2" r="2.3" fill="none" stroke="#333" stroke-width="0.8"/>
<circle cx="596.2" cy="290.9" r="2.3" fill="none" stroke="#333" stroke-width="0.8"/>
<circle cx="615.0" cy="255.8" r="2.3" fill="none" stroke="#333" stroke-width="0.8"/>
<circle cx="610.6" cy="281.6" r="2.3" fill="none" stroke="#333" stroke-width="0.8"/>
<circle cx="618.8" cy="278.6" r="2.3" fill="none" stroke="#333" stroke-width="0.8"/>
<circle cx="633.9" cy="234.3" r="2.3" fill="none" stroke="#333" stroke-width="0.8"/>
<circle cx="633.9" cy="257.6" r="2.3" fill="none" stroke="#333" stroke-width="0.8"/>
<circle cx="633.9" cy="276.0" r="2.3" fill="none" stroke="#333" stroke-width="0.8"/>
<circle cx="652.7" cy="251.6" r="2.3" fill="none" stroke="#333" stroke-width="0.8"/>
<circle cx="648.1" cy="259.0" r="2.3" fill="none" stroke="#333" stroke-width="0.8"/>
<circle cx="657.3" cy="259.0" r="2.3" fill="none" stroke="#333" stroke-width="0.8"/>
<circle cx="667.5" cy="234.3" r="2.3" fill="none" stroke="#333" stroke-width="0.8"/>
<circle cx="675.4" cy="237.3" r="2.3" fill="none" stroke="#333" stroke-width="0.8"/>
<circle cx="671.6" cy="244.1" r="2.3" fill="none" stroke="#333" stroke-width="0.8"/>
<line x1="559.8" y1="345.4" x2="684.5" y2="345.4" stroke="#444" stroke-width="0.9"/>
<line x1="577.3" y1="345.4" x2="577.3" y2="349.4" stroke="#444" stroke-width="0.9"/>
<line x1="596.2" y1="345.4" x2="596.2" y2="349.4" stroke="#444" stroke-width="0.9"/>
<line x1="615.0" y1="345.4" x2="615.0" y2="349.4" stroke="#444" stroke-width="0.9"/>
<line x1="633.9" y1="345.4" x2="633.9" y2="349.4" stroke="#444" stroke-width="0.9"/>
<line x1="652.7" y1="345.4" x2="652.7" y2="349.4" stroke="#444" stroke-width="0.9"/>
<line x1="671.6" y1="345.4" x2="671.6" y2="349.4" stroke="#444" stroke-width="0.9"/>
<line x1="559.8" y1="345.4" x2="564.4" y2="345.4" stroke="#444" stroke-width="0.9"/>
<text x="556.5" y="349.0" font-size="10.2" text-anchor="end">0</text>
<line x1="559.8" y1="305.3" x2="564.4" y2="305.3" stroke="#444" stroke-width="0.9"/>
<text x="556.5" y="308.9" font-size="10.2" text-anchor="end">20</text>
<line x1="559.8" y1="265.2" x2="564.4" y2="265.2" stroke="#444" stroke-width="0.9"/>
<text x="556.5" y="268.8" font-size="10.2" text-anchor="end">40</text>
<line x1="559.8" y1="225.1" x2="564.4" y2="225.1" stroke="#444" stroke-width="0.9"/>
<text x="556.5" y="228.7" font-size="10.2" text-anchor="end">60</text>
<text x="572.6" y="241.1" font-size="10.6"><tspan font-style="italic">ipaA</tspan></text>
<text x="535.2" y="283.7" font-size="10.9" text-anchor="middle" transform="rotate(-90 535.2 283.7)">Relative expression</text>
<text x="515.7" y="358.8" font-size="14.5" fill="#000" font-weight="bold">h</text>
<path d="M564.4,478.5 L564.4,358.2 L684.5,358.2 L684.5,478.5" fill="none" stroke="#444" stroke-width="0.9"/>
<rect x="571.0" y="395.9" width="12.6" height="82.6" fill="#a0a0a0"/>
<rect x="589.9" y="390.3" width="12.6" height="88.2" fill="#a0a0a0"/>
<rect x="608.7" y="476.9" width="12.6" height="1.6" fill="#a0a0a0"/>
<rect x="627.6" y="399.9" width="12.6" height="78.6" fill="#a0a0a0"/>
<rect x="646.4" y="401.5" width="12.6" height="77.0" fill="#a0a0a0"/>
<rect x="665.3" y="412.7" width="12.6" height="65.8" fill="#a0a0a0"/>
<line x1="577.3" y1="419.2" x2="577.3" y2="368.6" stroke="#333" stroke-width="0.9"/>
<line x1="596.2" y1="410.3" x2="596.2" y2="367.8" stroke="#8a8a8a" stroke-width="0.9"/>
<line x1="633.9" y1="430.4" x2="633.9" y2="372.6" stroke="#555" stroke-width="0.9"/>
<line x1="652.7" y1="419.2" x2="652.7" y2="386.3" stroke="#333" stroke-width="0.9"/>
<line x1="671.6" y1="428.8" x2="671.6" y2="399.1" stroke="#333" stroke-width="0.9"/>
<circle cx="577.3" cy="368.6" r="2.3" fill="none" stroke="#333" stroke-width="0.8"/>
<circle cx="577.3" cy="401.5" r="2.3" fill="none" stroke="#333" stroke-width="0.8"/>
<circle cx="577.3" cy="419.2" r="2.3" fill="none" stroke="#333" stroke-width="0.8"/>
<circle cx="596.2" cy="367.8" r="2.3" fill="none" stroke="#333" stroke-width="0.8"/>
<circle cx="592.1" cy="403.1" r="2.3" fill="none" stroke="#333" stroke-width="0.8"/>
<circle cx="600.3" cy="399.9" r="2.3" fill="none" stroke="#333" stroke-width="0.8"/>
<circle cx="610.6" cy="478.5" r="2.3" fill="none" stroke="#333" stroke-width="0.8"/>
<circle cx="615.0" cy="478.5" r="2.3" fill="none" stroke="#333" stroke-width="0.8"/>
<circle cx="619.4" cy="478.5" r="2.3" fill="none" stroke="#333" stroke-width="0.8"/>
<circle cx="633.9" cy="379.1" r="2.3" fill="none" stroke="#333" stroke-width="0.8"/>
<circle cx="633.9" cy="389.5" r="2.3" fill="none" stroke="#333" stroke-width="0.8"/>
<circle cx="633.9" cy="430.4" r="2.3" fill="none" stroke="#333" stroke-width="0.8"/>
<circle cx="652.7" cy="386.3" r="2.3" fill="none" stroke="#333" stroke-width="0.8"/>
<circle cx="652.7" cy="397.5" r="2.3" fill="none" stroke="#333" stroke-width="0.8"/>
<circle cx="652.7" cy="419.2" r="2.3" fill="none" stroke="#333" stroke-width="0.8"/>
<circle cx="671.6" cy="399.1" r="2.3" fill="none" stroke="#333" stroke-width="0.8"/>
<circle cx="671.6" cy="409.5" r="2.3" fill="none" stroke="#333" stroke-width="0.8"/>
<circle cx="671.6" cy="428.8" r="2.3" fill="none" stroke="#333" stroke-width="0.8"/>
<line x1="559.8" y1="478.5" x2="684.5" y2="478.5" stroke="#444" stroke-width="0.9"/>
<line x1="577.3" y1="478.5" x2="577.3" y2="482.5" stroke="#444" stroke-width="0.9"/>
<line x1="596.2" y1="478.5" x2="596.2" y2="482.5" stroke="#444" stroke-width="0.9"/>
<line x1="615.0" y1="478.5" x2="615.0" y2="482.5" stroke="#444" stroke-width="0.9"/>
<line x1="633.9" y1="478.5" x2="633.9" y2="482.5" stroke="#444" stroke-width="0.9"/>
<line x1="652.7" y1="478.5" x2="652.7" y2="482.5" stroke="#444" stroke-width="0.9"/>
<line x1="671.6" y1="478.5" x2="671.6" y2="482.5" stroke="#444" stroke-width="0.9"/>
<line x1="559.8" y1="478.5" x2="564.4" y2="478.5" stroke="#444" stroke-width="0.9"/>
<text x="556.5" y="482.1" font-size="10.2" text-anchor="end">0</text>
<line x1="559.8" y1="438.4" x2="564.4" y2="438.4" stroke="#444" stroke-width="0.9"/>
<text x="556.5" y="442.0" font-size="10.2" text-anchor="end">0.5</text>
<line x1="559.8" y1="398.3" x2="564.4" y2="398.3" stroke="#444" stroke-width="0.9"/>
<text x="556.5" y="401.9" font-size="10.2" text-anchor="end">1.0</text>
<line x1="559.8" y1="358.2" x2="564.4" y2="358.2" stroke="#444" stroke-width="0.9"/>
<text x="556.5" y="361.8" font-size="10.2" text-anchor="end">1.5</text>
<text x="642.7" y="373.4" font-size="10.6"><tspan font-style="italic">mnmE</tspan></text>
<text x="535.2" y="416.5" font-size="10.9" text-anchor="middle" transform="rotate(-90 535.2 416.5)">Relative expression</text>
<text x="515.7" y="490.7" font-size="14.5" fill="#000" font-weight="bold">i</text>
<path d="M564.4,611.3 L564.4,491.6 L684.5,491.6 L684.5,611.3" fill="none" stroke="#444" stroke-width="0.9"/>
<rect x="571.0" y="550.3" width="12.6" height="61.0" fill="#a0a0a0"/>
<rect x="589.9" y="556.2" width="12.6" height="55.1" fill="#a0a0a0"/>
<rect x="608.7" y="539.5" width="12.6" height="71.8" fill="#a0a0a0"/>
<rect x="627.6" y="556.8" width="12.6" height="54.5" fill="#a0a0a0"/>
<rect x="646.4" y="608.9" width="12.6" height="2.4" fill="#a0a0a0"/>
<rect x="665.3" y="599.9" width="12.6" height="11.4" fill="#a0a0a0"/>
<line x1="577.3" y1="565.2" x2="577.3" y2="539.5" stroke="#333" stroke-width="0.9"/>
<line x1="596.2" y1="568.2" x2="596.2" y2="542.5" stroke="#333" stroke-width="0.9"/>
<line x1="615.0" y1="578.4" x2="615.0" y2="515.5" stroke="#8a8a8a" stroke-width="0.9"/>
<line x1="633.9" y1="574.2" x2="633.9" y2="541.3" stroke="#333" stroke-width="0.9"/>
<circle cx="577.3" cy="539.5" r="2.3" fill="none" stroke="#333" stroke-width="0.8"/>
<circle cx="577.3" cy="547.3" r="2.3" fill="none" stroke="#333" stroke-width="0.8"/>
<circle cx="577.3" cy="565.2" r="2.3" fill="none" stroke="#333" stroke-width="0.8"/>
<circle cx="596.2" cy="539.5" r="2.3" fill="none" stroke="#333" stroke-width="0.8"/>
<circle cx="596.2" cy="561.6" r="2.3" fill="none" stroke="#333" stroke-width="0.8"/>
<circle cx="596.2" cy="566.4" r="2.3" fill="none" stroke="#333" stroke-width="0.8"/>
<circle cx="610.6" cy="524.5" r="2.3" fill="none" stroke="#333" stroke-width="0.8"/>
<circle cx="619.4" cy="526.3" r="2.3" fill="none" stroke="#333" stroke-width="0.8"/>
<circle cx="615.0" cy="567.6" r="2.3" fill="none" stroke="#333" stroke-width="0.8"/>
<circle cx="633.9" cy="544.9" r="2.3" fill="none" stroke="#333" stroke-width="0.8"/>
<circle cx="633.9" cy="550.3" r="2.3" fill="none" stroke="#333" stroke-width="0.8"/>
<circle cx="633.9" cy="574.2" r="2.3" fill="none" stroke="#333" stroke-width="0.8"/>
<circle cx="648.3" cy="611.3" r="2.3" fill="none" stroke="#333" stroke-width="0.8"/>
<circle cx="652.7" cy="611.3" r="2.3" fill="none" stroke="#333" stroke-width="0.8"/>
<circle cx="657.1" cy="611.3" r="2.3" fill="none" stroke="#333" stroke-width="0.8"/>
<circle cx="667.5" cy="601.1" r="2.3" fill="none" stroke="#333" stroke-width="0.8"/>
<circle cx="671.6" cy="598.1" r="2.3" fill="none" stroke="#333" stroke-width="0.8"/>
<circle cx="676.0" cy="599.3" r="2.3" fill="none" stroke="#333" stroke-width="0.8"/>
<line x1="559.8" y1="611.3" x2="684.5" y2="611.3" stroke="#444" stroke-width="0.9"/>
<line x1="577.3" y1="611.3" x2="577.3" y2="615.3" stroke="#444" stroke-width="0.9"/>
<line x1="596.2" y1="611.3" x2="596.2" y2="615.3" stroke="#444" stroke-width="0.9"/>
<line x1="615.0" y1="611.3" x2="615.0" y2="615.3" stroke="#444" stroke-width="0.9"/>
<line x1="633.9" y1="611.3" x2="633.9" y2="615.3" stroke="#444" stroke-width="0.9"/>
<line x1="652.7" y1="611.3" x2="652.7" y2="615.3" stroke="#444" stroke-width="0.9"/>
<line x1="671.6" y1="611.3" x2="671.6" y2="615.3" stroke="#444" stroke-width="0.9"/>
<line x1="559.8" y1="611.3" x2="564.4" y2="611.3" stroke="#444" stroke-width="0.9"/>
<text x="556.5" y="614.9" font-size="10.2" text-anchor="end">0</text>
<line x1="559.8" y1="581.4" x2="564.4" y2="581.4" stroke="#444" stroke-width="0.9"/>
<text x="556.5" y="585.0" font-size="10.2" text-anchor="end">0.5</text>
<line x1="559.8" y1="551.5" x2="564.4" y2="551.5" stroke="#444" stroke-width="0.9"/>
<text x="556.5" y="555.1" font-size="10.2" text-anchor="end">1.0</text>
<line x1="559.8" y1="521.5" x2="564.4" y2="521.5" stroke="#444" stroke-width="0.9"/>
<text x="556.5" y="525.1" font-size="10.2" text-anchor="end">1.5</text>
<line x1="559.8" y1="491.6" x2="564.4" y2="491.6" stroke="#444" stroke-width="0.9"/>
<text x="556.5" y="495.2" font-size="10.2" text-anchor="end">2.0</text>
<text x="642.7" y="505.3" font-size="10.6"><tspan font-style="italic">mnmG</tspan></text>
<text x="535.2" y="549.7" font-size="10.9" text-anchor="middle" transform="rotate(-90 535.2 549.7)">Relative expression</text>
<text x="586.3" y="629.2" font-size="10.6" text-anchor="middle">WT</text>
<line x1="571.1" y1="633.0" x2="601.8" y2="633.0" stroke="#555" stroke-width="0.9"/>
<text x="622.8" y="629.2" font-size="10.6" text-anchor="middle">Δ<tspan font-style="italic">E</tspan></text>
<line x1="607.0" y1="633.0" x2="639.2" y2="633.0" stroke="#555" stroke-width="0.9"/>
<text x="661.0" y="629.2" font-size="10.6" text-anchor="middle">Δ<tspan font-style="italic">G</tspan></text>
<line x1="646.2" y1="633.0" x2="678.3" y2="633.0" stroke="#555" stroke-width="0.9"/>
<text x="563.2" y="644.4" font-size="10.6" text-anchor="end"><tspan font-style="italic">ipaA-3xFT</tspan></text>
<text x="563.2" y="657.5" font-size="10.6" text-anchor="end">p-Empty</text>
<text x="563.2" y="672.1" font-size="10.6" text-anchor="end">p-<tspan font-style="italic">mnmE</tspan></text>
<text x="563.2" y="683.2" font-size="10.6" text-anchor="end">p-<tspan font-style="italic">mnmG</tspan></text>
<line x1="574.7" y1="640.8" x2="579.9" y2="640.8" stroke="#444" stroke-width="0.8"/>
<text x="596.5" y="643.9" font-size="8.8" text-anchor="middle">+</text>
<text x="615.3" y="643.9" font-size="8.8" text-anchor="middle">+</text>
<text x="634.2" y="643.9" font-size="8.8" text-anchor="middle">+</text>
<text x="653.0" y="643.9" font-size="8.8" text-anchor="middle">+</text>
<text x="671.9" y="643.9" font-size="8.8" text-anchor="middle">+</text>
<line x1="574.7" y1="653.9" x2="579.9" y2="653.9" stroke="#444" stroke-width="0.8"/>
<line x1="593.6" y1="653.9" x2="598.8" y2="653.9" stroke="#444" stroke-width="0.8"/>
<text x="615.3" y="657.0" font-size="8.8" text-anchor="middle">+</text>
<line x1="631.3" y1="653.9" x2="636.5" y2="653.9" stroke="#444" stroke-width="0.8"/>
<text x="653.0" y="657.0" font-size="8.8" text-anchor="middle">+</text>
<line x1="669.0" y1="653.9" x2="674.2" y2="653.9" stroke="#444" stroke-width="0.8"/>
<line x1="574.7" y1="668.5" x2="579.9" y2="668.5" stroke="#444" stroke-width="0.8"/>
<line x1="593.6" y1="668.5" x2="598.8" y2="668.5" stroke="#444" stroke-width="0.8"/>
<line x1="612.4" y1="668.5" x2="617.6" y2="668.5" stroke="#444" stroke-width="0.8"/>
<text x="634.2" y="671.6" font-size="8.8" text-anchor="middle">+</text>
<line x1="650.1" y1="668.5" x2="655.3" y2="668.5" stroke="#444" stroke-width="0.8"/>
<line x1="669.0" y1="668.5" x2="674.2" y2="668.5" stroke="#444" stroke-width="0.8"/>
<line x1="574.7" y1="679.6" x2="579.9" y2="679.6" stroke="#444" stroke-width="0.8"/>
<line x1="593.6" y1="679.6" x2="598.8" y2="679.6" stroke="#444" stroke-width="0.8"/>
<line x1="612.4" y1="679.6" x2="617.6" y2="679.6" stroke="#444" stroke-width="0.8"/>
<line x1="631.3" y1="679.6" x2="636.5" y2="679.6" stroke="#444" stroke-width="0.8"/>
<line x1="650.1" y1="679.6" x2="655.3" y2="679.6" stroke="#444" stroke-width="0.8"/>
<text x="671.9" y="682.7" font-size="8.8" text-anchor="middle">+</text>
<text x="0.0" y="710.0" font-size="14.5" fill="#000" font-weight="bold">j</text>
<defs>
<filter id="bl" x="-20%" y="-50%" width="140%" height="200%"><feGaussianBlur stdDeviation="0.9"/></filter>
<filter id="bl2" x="-20%" y="-50%" width="140%" height="200%"><feGaussianBlur stdDeviation="0.6"/></filter>
<filter id="nz" x="0" y="0" width="100%" height="100%"><feTurbulence type="fractalNoise" baseFrequency="0.9" numOctaves="2" seed="3" result="t"/>
<feColorMatrix type="matrix" values="0 0 0 0 0  0 0 0 0 0  0 0 0 0 0  0 0 0 0.12 0"/></filter>
<linearGradient id="smear" x1="0" y1="0" x2="0" y2="1"><stop offset="0" stop-color="#b8b8b8"/><stop offset="1" stop-color="#d4d4d4"/></linearGradient>
</defs>
<defs><linearGradient id="lane" x1="0" y1="0" x2="0" y2="1"><stop offset="0" stop-color="#d2d2d2"/><stop offset="0.6" stop-color="#c4c4c4"/><stop offset="1" stop-color="#b4b4b4"/></linearGradient>
<filter id="bl3" x="-20%" y="-100%" width="140%" height="300%"><feGaussianBlur stdDeviation="0.8 0.7"/></filter></defs>
<rect x="55" y="733.5" width="80.4" height="34" fill="#e0e0e0"/>
<rect x="80.5" y="744.5" width="15.299999999999997" height="23.0" fill="#bdbdbd" opacity="1" filter="url(#bl)"/>
<rect x="81.0" y="751.5" width="14.299999999999997" height="2.2" fill="#a8a8a8" opacity="1" filter="url(#bl2)"/>
<rect x="80.5" y="740.2" width="15.299999999999997" height="6.5" rx="3" fill="#050505" filter="url(#bl2)"/>
<rect x="100.6" y="745" width="13.200000000000003" height="22.5" fill="#bdbdbd" opacity="0.5" filter="url(#bl)"/>
<rect x="101.1" y="752.0" width="12.200000000000003" height="2.2" fill="#a8a8a8" opacity="0.5" filter="url(#bl2)"/>
<rect x="100.6" y="742.3" width="13.200000000000003" height="3.4" rx="1.7" fill="#7a7a7a" filter="url(#bl2)"/>
<rect x="118.7" y="744" width="14.499999999999986" height="23.5" fill="#bdbdbd" opacity="0.85" filter="url(#bl)"/>
<rect x="119.2" y="751.0" width="13.499999999999986" height="2.2" fill="#a8a8a8" opacity="0.85" filter="url(#bl2)"/>
<rect x="118.7" y="740.2" width="14.499999999999986" height="5.5" rx="2.75" fill="#0d0d0d" filter="url(#bl2)"/>
<rect x="55" y="733.5" width="80.4" height="34" fill="#000" filter="url(#nz)"/>
<rect x="55" y="733.5" width="80.4" height="34" fill="none" stroke="#3a3a3a" stroke-width="1"/>
<rect x="147.8" y="733.5" width="80.4" height="34" fill="#e0e0e0"/>
<rect x="171.2" y="746.8" width="16.0" height="20.7" fill="#bdbdbd" opacity="1" filter="url(#bl)"/>
<rect x="171.7" y="753.8" width="15.0" height="2.2" fill="#a8a8a8" opacity="1" filter="url(#bl2)"/>
<rect x="171.2" y="742.4" width="16.0" height="6.8" rx="3" fill="#050505" filter="url(#bl2)"/>
<rect x="192" y="746.8" width="13.199999999999989" height="20.7" fill="#bdbdbd" opacity="0.5" filter="url(#bl)"/>
<rect x="192.5" y="753.8" width="12.199999999999989" height="2.2" fill="#a8a8a8" opacity="0.5" filter="url(#bl2)"/>
<rect x="192" y="744.1" width="13.199999999999989" height="3.4" rx="1.7" fill="#555" filter="url(#bl2)"/>
<rect x="210.7" y="746.2" width="14.600000000000023" height="21.3" fill="#bdbdbd" opacity="0.8" filter="url(#bl)"/>
<rect x="211.2" y="753.2" width="13.600000000000023" height="2.2" fill="#a8a8a8" opacity="0.8" filter="url(#bl2)"/>
<rect x="210.7" y="742.5" width="14.600000000000023" height="5.5" rx="2.75" fill="#111" filter="url(#bl2)"/>
<rect x="147.8" y="733.5" width="80.4" height="34" fill="#000" filter="url(#nz)"/>
<rect x="147.8" y="733.5" width="80.4" height="34" fill="none" stroke="#3a3a3a" stroke-width="1"/>
<rect x="55" y="770.2" width="80.4" height="36" fill="#e0e0e0"/>
<rect x="55.5" y="770.2" width="18.099999999999994" height="36" fill="url(#lane)" filter="url(#bl2)"/>
<rect x="56.1" y="774.8" width="16.899999999999995" height="2.2" fill="#6a6a6a" filter="url(#bl3)"/>
<rect x="56.1" y="781.7" width="16.899999999999995" height="2.2" fill="#7a7a7a" filter="url(#bl3)"/>
<rect x="56.1" y="792.1" width="16.899999999999995" height="2.2" fill="#2e2e2e" filter="url(#bl3)"/>
<rect x="79.1" y="770.2" width="15.300000000000011" height="36" fill="url(#lane)" filter="url(#bl2)"/>
<rect x="79.69999999999999" y="776.1" width="14.100000000000012" height="2.2" fill="#7a7a7a" filter="url(#bl3)"/>
<rect x="79.69999999999999" y="783.1" width="14.100000000000012" height="2.2" fill="#8a8a8a" filter="url(#bl3)"/>
<rect x="79.69999999999999" y="794.2" width="14.100000000000012" height="2.2" fill="#707070" filter="url(#bl3)"/>
<rect x="99.2" y="770.2" width="15.299999999999997" height="36" fill="url(#lane)" filter="url(#bl2)"/>
<rect x="99.8" y="777.5" width="14.099999999999998" height="2.2" fill="#5e5e5e" filter="url(#bl3)"/>
<rect x="99.8" y="783.8" width="14.099999999999998" height="2.2" fill="#555" filter="url(#bl3)"/>
<rect x="99.8" y="794.9" width="14.099999999999998" height="2.2" fill="#252525" filter="url(#bl3)"/>
<rect x="118.7" y="770.2" width="14.499999999999986" height="36" fill="url(#lane)" filter="url(#bl2)"/>
<rect x="119.3" y="777.5" width="13.299999999999986" height="2.2" fill="#7e7e7e" filter="url(#bl3)"/>
<rect x="119.3" y="783.1" width="13.299999999999986" height="2.2" fill="#8e8e8e" filter="url(#bl3)"/>
<rect x="119.3" y="794.4" width="13.299999999999986" height="2.2" fill="#7a7a7a" filter="url(#bl3)"/>
<rect x="55" y="770.2" width="80.4" height="36" fill="#000" filter="url(#nz)"/>
<rect x="55" y="770.2" width="80.4" height="36" fill="none" stroke="#3a3a3a" stroke-width="1"/>
<rect x="147.8" y="770.2" width="80.4" height="36" fill="#e0e0e0"/>
<rect x="149.5" y="770.2" width="16.900000000000006" height="36" fill="url(#lane)" filter="url(#bl2)"/>
<rect x="150.1" y="778.2" width="15.700000000000006" height="2.2" fill="#555" filter="url(#bl3)"/>
<rect x="150.1" y="784.0" width="15.700000000000006" height="2.2" fill="#5e5e5e" filter="url(#bl3)"/>
<rect x="150.1" y="794.6" width="15.700000000000006" height="2.2" fill="#1e1e1e" filter="url(#bl3)"/>
<rect x="171.9" y="770.2" width="14.599999999999994" height="36" fill="url(#lane)" filter="url(#bl2)"/>
<rect x="172.5" y="778.2" width="13.399999999999995" height="2.2" fill="#5a5a5a" filter="url(#bl3)"/>
<rect x="172.5" y="784.0" width="13.399999999999995" height="2.2" fill="#656565" filter="url(#bl3)"/>
<rect x="172.5" y="794.6" width="13.399999999999995" height="2.2" fill="#2a2a2a" filter="url(#bl3)"/>
<rect x="191.3" y="770.2" width="13.899999999999977" height="36" fill="url(#lane)" filter="url(#bl2)"/>
<rect x="191.9" y="778.2" width="12.699999999999978" height="2.2" fill="#6a6a6a" filter="url(#bl3)"/>
<rect x="191.9" y="784.0" width="12.699999999999978" height="2.2" fill="#707070" filter="url(#bl3)"/>
<rect x="191.9" y="794.6" width="12.699999999999978" height="2.2" fill="#3a3a3a" filter="url(#bl3)"/>
<rect x="210.5" y="770.2" width="15.0" height="36" fill="url(#lane)" filter="url(#bl2)"/>
<rect x="211.1" y="778.2" width="13.8" height="2.2" fill="#555" filter="url(#bl3)"/>
<rect x="211.1" y="784.0" width="13.8" height="2.2" fill="#5e5e5e" filter="url(#bl3)"/>
<rect x="211.1" y="794.6" width="13.8" height="2.2" fill="#1e1e1e" filter="url(#bl3)"/>
<rect x="147.8" y="770.2" width="80.4" height="36" fill="#000" filter="url(#nz)"/>
<rect x="147.8" y="770.2" width="80.4" height="36" fill="none" stroke="#3a3a3a" stroke-width="1"/>
<line x1="50.5" y1="741.0" x2="55.0" y2="741.0" stroke="#444" stroke-width="0.8"/>
<text x="47.2" y="744.7" font-size="10.6" text-anchor="end">70 kDa</text>
<line x1="50.5" y1="789.5" x2="55.0" y2="789.5" stroke="#444" stroke-width="0.8"/>
<text x="47.2" y="793.2" font-size="10.6" text-anchor="end">70 kDa</text>
<line x1="143.3" y1="742.9" x2="147.8" y2="742.9" stroke="#444" stroke-width="0.8"/>
<line x1="143.3" y1="791.6" x2="147.8" y2="791.6" stroke="#444" stroke-width="0.8"/>
<text x="233.3" y="749.5" font-size="10.6">IpaA</text>
<text x="233.3" y="785.5" font-size="10.6">StainFree</text>
<text x="233.3" y="798.8" font-size="10.6">LC</text>
<text x="78.3" y="722.7" font-size="10.2" text-anchor="middle">WT</text>
<text x="170.8" y="722.9" font-size="10.2" text-anchor="middle">WT</text>
<text x="112.0" y="724.0" font-size="11" transform="rotate(-45 112.0 724.0)">Δ<tspan font-style="italic">mnmE</tspan></text>
<text x="203.5" y="724.0" font-size="11" transform="rotate(-45 203.5 724.0)">Δ<tspan font-style="italic">mnmG</tspan></text>
<line x1="58.4" y1="727.6" x2="95.8" y2="727.6" stroke="#b4b4b4" stroke-width="1.4"/>
<line x1="98.1" y1="727.6" x2="135.0" y2="727.6" stroke="#b4b4b4" stroke-width="1.4"/>
<line x1="148.9" y1="727.6" x2="186.2" y2="727.6" stroke="#b4b4b4" stroke-width="1.4"/>
<line x1="189.2" y1="727.6" x2="225.6" y2="727.6" stroke="#b4b4b4" stroke-width="1.4"/>
<path d="M55,928.7 L55,808.4 L135.4,808.4 L135.4,928.7" fill="none" stroke="#999" stroke-width="0.9"/>
<rect x="78.8" y="828.4" width="13.2" height="100.3" fill="#9b9b9b"/>
<rect x="97.7" y="916.7" width="12.7" height="12.0" fill="#1b9bb7"/>
<rect x="116.0" y="856.5" width="13.7" height="72.2" fill="#e8626f"/>
<line x1="104.0" y1="923.7" x2="104.0" y2="908.6" stroke="#333" stroke-width="0.9"/>
<line x1="122.8" y1="876.5" x2="122.8" y2="833.4" stroke="#333" stroke-width="0.9"/>
<circle cx="81.1" cy="828.4" r="2.2" fill="none" stroke="#333" stroke-width="0.8"/>
<circle cx="85.4" cy="828.4" r="2.2" fill="none" stroke="#333" stroke-width="0.8"/>
<circle cx="89.7" cy="828.4" r="2.2" fill="none" stroke="#333" stroke-width="0.8"/>
<circle cx="103.9" cy="906.4" r="2.2" fill="none" stroke="#333" stroke-width="0.8"/>
<circle cx="103.9" cy="918.7" r="2.2" fill="none" stroke="#333" stroke-width="0.8"/>
<circle cx="103.9" cy="923.7" r="2.2" fill="none" stroke="#333" stroke-width="0.8"/>
<circle cx="122.8" cy="831.4" r="2.2" fill="none" stroke="#333" stroke-width="0.8"/>
<circle cx="118.5" cy="870.5" r="2.2" fill="none" stroke="#333" stroke-width="0.8"/>
<circle cx="127.0" cy="868.5" r="2.2" fill="none" stroke="#333" stroke-width="0.8"/>
<line x1="55.0" y1="928.7" x2="135.4" y2="928.7" stroke="#444" stroke-width="0.9"/>
<line x1="67.0" y1="928.7" x2="67.0" y2="933.2" stroke="#555" stroke-width="0.9"/>
<line x1="85.5" y1="928.7" x2="85.5" y2="933.2" stroke="#555" stroke-width="0.9"/>
<line x1="104.0" y1="928.7" x2="104.0" y2="933.2" stroke="#555" stroke-width="0.9"/>
<line x1="122.5" y1="928.7" x2="122.5" y2="933.2" stroke="#555" stroke-width="0.9"/>
<text x="67.0" y="926.5" font-size="10.6" text-anchor="middle">nd</text>
<path d="M147.8,928.7 L147.8,808.4 L228.20000000000002,808.4 L228.20000000000002,928.7" fill="none" stroke="#999" stroke-width="0.9"/>
<rect x="173.0" y="828.4" width="12.3" height="100.3" fill="#9b9b9b"/>
<rect x="191.4" y="909.6" width="12.7" height="19.1" fill="#1b9bb7"/>
<rect x="209.8" y="884.6" width="12.3" height="44.1" fill="#e8626f"/>
<line x1="197.5" y1="915.7" x2="197.5" y2="902.6" stroke="#333" stroke-width="0.9"/>
<line x1="215.9" y1="892.6" x2="215.9" y2="877.5" stroke="#333" stroke-width="0.9"/>
<circle cx="174.8" cy="828.4" r="2.2" fill="none" stroke="#333" stroke-width="0.8"/>
<circle cx="179.1" cy="828.4" r="2.2" fill="none" stroke="#333" stroke-width="0.8"/>
<circle cx="183.4" cy="828.4" r="2.2" fill="none" stroke="#333" stroke-width="0.8"/>
<circle cx="197.3" cy="898.6" r="2.2" fill="none" stroke="#333" stroke-width="0.8"/>
<circle cx="193.2" cy="916.2" r="2.2" fill="none" stroke="#333" stroke-width="0.8"/>
<circle cx="201.0" cy="912.2" r="2.2" fill="none" stroke="#333" stroke-width="0.8"/>
<circle cx="215.9" cy="875.5" r="2.2" fill="none" stroke="#333" stroke-width="0.8"/>
<circle cx="215.9" cy="890.6" r="2.2" fill="none" stroke="#333" stroke-width="0.8"/>
<circle cx="215.9" cy="885.6" r="2.2" fill="none" stroke="#333" stroke-width="0.8"/>
<line x1="147.8" y1="928.7" x2="228.2" y2="928.7" stroke="#444" stroke-width="0.9"/>
<line x1="159.8" y1="928.7" x2="159.8" y2="933.2" stroke="#555" stroke-width="0.9"/>
<line x1="178.3" y1="928.7" x2="178.3" y2="933.2" stroke="#555" stroke-width="0.9"/>
<line x1="196.8" y1="928.7" x2="196.8" y2="933.2" stroke="#555" stroke-width="0.9"/>
<line x1="215.3" y1="928.7" x2="215.3" y2="933.2" stroke="#555" stroke-width="0.9"/>
<text x="159.9" y="926.5" font-size="10.6" text-anchor="middle">nd</text>
<line x1="50.5" y1="928.7" x2="55.0" y2="928.7" stroke="#444" stroke-width="0.8"/>
<text x="46.5" y="932.3" font-size="10.2" text-anchor="end">0</text>
<line x1="143.3" y1="928.7" x2="147.8" y2="928.7" stroke="#444" stroke-width="0.8"/>
<line x1="50.5" y1="878.5" x2="55.0" y2="878.5" stroke="#444" stroke-width="0.8"/>
<text x="46.5" y="882.1" font-size="10.2" text-anchor="end">0.5</text>
<line x1="143.3" y1="878.5" x2="147.8" y2="878.5" stroke="#444" stroke-width="0.8"/>
<line x1="50.5" y1="828.4" x2="55.0" y2="828.4" stroke="#444" stroke-width="0.8"/>
<text x="46.5" y="832.0" font-size="10.2" text-anchor="end">1.0</text>
<line x1="143.3" y1="828.4" x2="147.8" y2="828.4" stroke="#444" stroke-width="0.8"/>
<text x="14.2" y="870.5" font-size="10.6" text-anchor="middle" transform="rotate(-90 14.2 870.5)">IpaA</text>
<text x="26.5" y="867.4" font-size="10.6" text-anchor="middle" transform="rotate(-90 26.5 867.4)">relative abundance</text>
<line x1="64.6" y1="943.2" x2="69.4" y2="943.2" stroke="#444" stroke-width="0.8"/>
<text x="85.7" y="946.3" font-size="8.8" text-anchor="middle">+</text>
<text x="104.5" y="946.3" font-size="8.8" text-anchor="middle">+</text>
<text x="122.9" y="946.3" font-size="8.8" text-anchor="middle">+</text>
<line x1="157.5" y1="943.2" x2="162.3" y2="943.2" stroke="#444" stroke-width="0.8"/>
<text x="179.0" y="946.3" font-size="8.8" text-anchor="middle">+</text>
<text x="197.4" y="946.3" font-size="8.8" text-anchor="middle">+</text>
<text x="215.8" y="946.3" font-size="8.8" text-anchor="middle">+</text>
<line x1="64.6" y1="966.0" x2="69.4" y2="966.0" stroke="#444" stroke-width="0.8"/>
<line x1="83.0" y1="966.0" x2="87.8" y2="966.0" stroke="#444" stroke-width="0.8"/>
<text x="104.5" y="969.1" font-size="8.8" text-anchor="middle">+</text>
<line x1="120.2" y1="966.0" x2="125.0" y2="966.0" stroke="#444" stroke-width="0.8"/>
<line x1="157.5" y1="966.0" x2="162.3" y2="966.0" stroke="#444" stroke-width="0.8"/>
<line x1="176.3" y1="966.0" x2="181.1" y2="966.0" stroke="#444" stroke-width="0.8"/>
<text x="197.4" y="969.1" font-size="8.8" text-anchor="middle">+</text>
<line x1="213.1" y1="966.0" x2="217.9" y2="966.0" stroke="#444" stroke-width="0.8"/>
<line x1="64.6" y1="981.3" x2="69.4" y2="981.3" stroke="#444" stroke-width="0.8"/>
<line x1="83.0" y1="981.3" x2="87.8" y2="981.3" stroke="#444" stroke-width="0.8"/>
<line x1="101.8" y1="981.3" x2="106.6" y2="981.3" stroke="#444" stroke-width="0.8"/>
<text x="122.9" y="984.4" font-size="8.8" text-anchor="middle">+</text>
<line x1="157.5" y1="981.3" x2="162.3" y2="981.3" stroke="#444" stroke-width="0.8"/>
<line x1="176.3" y1="981.3" x2="181.1" y2="981.3" stroke="#444" stroke-width="0.8"/>
<line x1="194.7" y1="981.3" x2="199.5" y2="981.3" stroke="#444" stroke-width="0.8"/>
<text x="215.8" y="984.4" font-size="8.8" text-anchor="middle">+</text>
<line x1="57.0" y1="952.8" x2="135.8" y2="952.8" stroke="#aaa" stroke-width="1.2"/>
<line x1="149.8" y1="952.8" x2="229.5" y2="952.8" stroke="#aaa" stroke-width="1.2"/>
<text x="234.8" y="946.6" font-size="10.6"><tspan font-style="italic">ipaA-3xFT</tspan></text>
<text x="9.6" y="969.2" font-size="10.6">p-Empty</text>
<text x="234.8" y="969.2" font-size="10.6">p-Empty</text>
<text x="9.6" y="984.6" font-size="10.6">p-<tspan font-style="italic">mnmE</tspan></text>
<text x="234.8" y="984.6" font-size="10.6">p-<tspan font-style="italic">mnmG</tspan></text>
<text x="300.9" y="707.7" font-size="14.5" fill="#000" font-weight="bold">k</text>
<text x="382.8" y="714.7" font-size="11.3" text-anchor="middle">Intracellular population</text>
<line x1="343.9" y1="719.0" x2="422.7" y2="719.0" stroke="#333" stroke-width="0.8"/>
<rect x="343.6" y="734.6" width="79.09999999999997" height="119.19999999999993" fill="none" stroke="#555" stroke-width="0.8"/>
<line x1="362.6" y1="734.6" x2="362.6" y2="853.8" stroke="#555" stroke-width="0.8"/>
<line x1="383.7" y1="734.6" x2="383.7" y2="853.8" stroke="#555" stroke-width="0.8"/>
<line x1="404.7" y1="734.6" x2="404.7" y2="853.8" stroke="#555" stroke-width="0.8"/>
<line x1="339.0" y1="853.8" x2="343.6" y2="853.8" stroke="#555" stroke-width="0.8"/>
<line x1="339.0" y1="745.6" x2="343.6" y2="745.6" stroke="#555" stroke-width="0.8"/>
<text x="333.0" y="749.2" font-size="10.4" text-anchor="end">10</text>
<text x="333.3" y="744.7" font-size="7">0</text>
<line x1="339.0" y1="782.2" x2="343.6" y2="782.2" stroke="#555" stroke-width="0.8"/>
<text x="333.0" y="785.8" font-size="10.4" text-anchor="end">10</text>
<text x="333.3" y="781.3" font-size="7">−1</text>
<line x1="339.0" y1="818.5" x2="343.6" y2="818.5" stroke="#555" stroke-width="0.8"/>
<text x="333.0" y="822.1" font-size="10.4" text-anchor="end">10</text>
<text x="333.3" y="817.6" font-size="7">−2</text>
<line x1="339.0" y1="853.8" x2="343.6" y2="853.8" stroke="#555" stroke-width="0.8"/>
<text x="333.0" y="857.4" font-size="10.4" text-anchor="end">10</text>
<text x="333.3" y="852.9" font-size="7">−3</text>
<text x="348.3" y="728.8" font-size="10" text-anchor="middle">1</text>
<text x="357.7" y="728.8" font-size="10" text-anchor="middle">2</text>
<text x="368.2" y="728.8" font-size="10" text-anchor="middle">1</text>
<text x="377.4" y="728.8" font-size="10" text-anchor="middle">2</text>
<text x="388.1" y="728.8" font-size="10" text-anchor="middle">1</text>
<text x="397.4" y="728.8" font-size="10" text-anchor="middle">2</text>
<text x="408.4" y="728.8" font-size="10" text-anchor="middle">1</text>
<text x="417.6" y="728.8" font-size="10" text-anchor="middle">2</text>
<text x="310.8" y="794.3" font-size="11" text-anchor="middle" transform="rotate(-90 310.8 794.3)">Relative abundance</text>
<circle cx="348.3" cy="749.0" r="2.5" fill="none" stroke="#f7b373" stroke-width="1.5"/>
<circle cx="348.3" cy="745.0" r="2.5" fill="none" stroke="#f07d4e" stroke-width="1.5"/>
<circle cx="357.7" cy="748.0" r="2.5" fill="none" stroke="#f7b373" stroke-width="1.5"/>
<circle cx="357.7" cy="745.0" r="2.5" fill="none" stroke="#f07d4e" stroke-width="1.5"/>
<circle cx="348.3" cy="778.0" r="2.5" fill="none" stroke="#b98ac9" stroke-width="1.5"/>
<circle cx="348.3" cy="775.9" r="2.5" fill="none" stroke="#7a3a9a" stroke-width="1.5"/>
<circle cx="348.3" cy="775.9" r="2.4" fill="#7a3a9a"/>
<circle cx="357.7" cy="774.5" r="2.5" fill="none" stroke="#b98ac9" stroke-width="1.5"/>
<circle cx="357.7" cy="769.8" r="2.5" fill="none" stroke="#7a3a9a" stroke-width="1.5"/>
<text x="353.0" y="792.0" font-size="12" text-anchor="middle" fill="#9b5cc0">***</text>
<circle cx="348.3" cy="833.4" r="2.5" fill="none" stroke="#a3d2ee" stroke-width="1.5"/>
<circle cx="348.3" cy="828.4" r="2.5" fill="none" stroke="#4a699c" stroke-width="1.5"/>
<circle cx="357.7" cy="826.7" r="2.5" fill="none" stroke="#4a699c" stroke-width="1.5"/>
<circle cx="368.2" cy="745.0" r="2.5" fill="none" stroke="#f07d4e" stroke-width="1.5"/>
<circle cx="377.4" cy="745.0" r="2.5" fill="none" stroke="#f07d4e" stroke-width="1.5"/>
<circle cx="368.2" cy="750.8" r="3.1" fill="#b98ac9"/>
<circle cx="377.4" cy="750.8" r="3.1" fill="#b98ac9"/>
<circle cx="368.2" cy="746.4" r="3.1" fill="#7a3a9a"/>
<circle cx="377.4" cy="745.5" r="3.1" fill="#7a3a9a"/>
<text x="373.0" y="762.0" font-size="11.5" text-anchor="middle" fill="#9b5cc0">NS</text>
<circle cx="368.2" cy="832.0" r="2.5" fill="none" stroke="#a3d2ee" stroke-width="1.5"/>
<circle cx="377.4" cy="835.4" r="2.5" fill="none" stroke="#a3d2ee" stroke-width="1.5"/>
<circle cx="368.2" cy="826.9" r="2.5" fill="none" stroke="#4a699c" stroke-width="1.5"/>
<circle cx="377.4" cy="827.9" r="2.5" fill="none" stroke="#4a699c" stroke-width="1.5"/>
<circle cx="388.1" cy="745.5" r="2.5" fill="none" stroke="#f07d4e" stroke-width="1.5"/>
<circle cx="397.4" cy="745.5" r="2.5" fill="none" stroke="#f07d4e" stroke-width="1.5"/>
<circle cx="388.1" cy="751.1" r="3.1" fill="#b98ac9"/>
<circle cx="397.4" cy="751.1" r="3.1" fill="#b98ac9"/>
<circle cx="388.1" cy="767.9" r="2.5" fill="none" stroke="#7a3a9a" stroke-width="1.5"/>
<circle cx="397.4" cy="764.7" r="2.5" fill="none" stroke="#7a3a9a" stroke-width="1.5"/>
<circle cx="397.4" cy="833.4" r="2.5" fill="none" stroke="#a3d2ee" stroke-width="1.5"/>
<circle cx="388.1" cy="831.0" r="2.5" fill="none" stroke="#4a699c" stroke-width="1.5"/>
<circle cx="397.4" cy="828.4" r="2.5" fill="none" stroke="#4a699c" stroke-width="1.5"/>
<circle cx="408.4" cy="745.0" r="2.5" fill="none" stroke="#f07d4e" stroke-width="1.5"/>
<circle cx="408.4" cy="750.4" r="3.1" fill="#7a3a9a"/>
<circle cx="417.6" cy="745.0" r="2.5" fill="none" stroke="#f07d4e" stroke-width="1.5"/>
<circle cx="417.6" cy="746.0" r="3.1" fill="#7a3a9a"/>
<circle cx="408.4" cy="775.6" r="2.5" fill="none" stroke="#b98ac9" stroke-width="1.5"/>
<circle cx="417.6" cy="771.8" r="2.5" fill="none" stroke="#b98ac9" stroke-width="1.5"/>
<circle cx="408.4" cy="827.9" r="2.5" fill="none" stroke="#4a699c" stroke-width="1.5"/>
<circle cx="417.6" cy="832.0" r="2.5" fill="none" stroke="#4a699c" stroke-width="1.5"/>
<text x="426.0" y="743.5" font-size="10.6">WT</text>
<text x="426.0" y="781.7" font-size="10.6">Δ<tspan font-style="italic">mxiD</tspan></text>
<text x="426.0" y="818.9" font-size="10.6">Δ<tspan font-style="italic">mnmE</tspan></text>
<circle cx="431.2" cy="752.7" r="2.2" fill="none" stroke="#f07d4e" stroke-width="1.5"/>
<text x="439.4" y="756.1" font-size="10.6">TagA</text>
<circle cx="431.2" cy="765.8" r="2.2" fill="none" stroke="#f7b373" stroke-width="1.5"/>
<text x="439.4" y="769.2" font-size="10.6">TagB</text>
<circle cx="431.2" cy="792.4" r="2.2" fill="none" stroke="#4a699c" stroke-width="1.5"/>
<text x="439.4" y="795.8" font-size="10.6">TagC</text>
<circle cx="431.2" cy="802.6" r="2.2" fill="none" stroke="#a3d2ee" stroke-width="1.5"/>
<text x="439.4" y="806.0" font-size="10.6">TagD</text>
<circle cx="431.2" cy="827.7" r="2.2" fill="none" stroke="#7a3a9a" stroke-width="1.5"/>
<text x="439.4" y="831.1" font-size="10.6">TagE</text>
<circle cx="431.2" cy="838.6" r="2.2" fill="none" stroke="#b98ac9" stroke-width="1.5"/>
<text x="439.4" y="842.0" font-size="10.6">TagF</text>
<line x1="473.5" y1="749.0" x2="473.5" y2="770.5" stroke="#999" stroke-width="0.8"/>
<text x="479.3" y="763.4" font-size="10.6">p-Empty</text>
<line x1="473.5" y1="822.2" x2="473.5" y2="844.1" stroke="#333" stroke-width="0.8"/>
<circle cx="478.7" cy="829.4" r="2.1" fill="none" stroke="#111" stroke-width="1.4"/>
<text x="485.8" y="832.8" font-size="10.6">p-Empty</text>
<circle cx="478.7" cy="839.2" r="2.8" fill="#111"/>
<text x="485.8" y="842.6" font-size="10.6">p-<tspan font-style="italic">mnmE</tspan></text>
<text x="300.9" y="879.0" font-size="13" fill="#000" font-weight="bold">l</text>
<rect x="344.2" y="872.5" width="79.69999999999999" height="118.79999999999995" fill="none" stroke="#555" stroke-width="0.8"/>
<line x1="363.5" y1="872.5" x2="363.5" y2="991.3" stroke="#555" stroke-width="0.8"/>
<line x1="384.4" y1="872.5" x2="384.4" y2="991.3" stroke="#555" stroke-width="0.8"/>
<line x1="405.2" y1="872.5" x2="405.2" y2="991.3" stroke="#555" stroke-width="0.8"/>
<line x1="339.6" y1="991.3" x2="344.2" y2="991.3" stroke="#555" stroke-width="0.8"/>
<line x1="339.6" y1="882.8" x2="344.2" y2="882.8" stroke="#555" stroke-width="0.8"/>
<text x="333.6" y="886.4" font-size="10.4" text-anchor="end">10</text>
<text x="333.9" y="881.9" font-size="7">0</text>
<line x1="339.6" y1="919.0" x2="344.2" y2="919.0" stroke="#555" stroke-width="0.8"/>
<text x="333.6" y="922.6" font-size="10.4" text-anchor="end">10</text>
<text x="333.9" y="918.1" font-size="7">−1</text>
<line x1="339.6" y1="955.3" x2="344.2" y2="955.3" stroke="#555" stroke-width="0.8"/>
<text x="333.6" y="958.9" font-size="10.4" text-anchor="end">10</text>
<text x="333.9" y="954.4" font-size="7">−2</text>
<line x1="339.6" y1="991.3" x2="344.2" y2="991.3" stroke="#555" stroke-width="0.8"/>
<text x="333.6" y="994.9" font-size="10.4" text-anchor="end">10</text>
<text x="333.9" y="990.4" font-size="7">−3</text>
<text x="348.6" y="867.9" font-size="10" text-anchor="middle">1</text>
<text x="357.8" y="867.9" font-size="10" text-anchor="middle">2</text>
<text x="369.3" y="867.9" font-size="10" text-anchor="middle">1</text>
<text x="378.6" y="867.9" font-size="10" text-anchor="middle">2</text>
<text x="389.2" y="867.9" font-size="10" text-anchor="middle">1</text>
<text x="398.8" y="867.9" font-size="10" text-anchor="middle">2</text>
<text x="409.4" y="867.9" font-size="10" text-anchor="middle">1</text>
<text x="418.7" y="867.9" font-size="10" text-anchor="middle">2</text>
<text x="311.5" y="931.9" font-size="11" text-anchor="middle" transform="rotate(-90 311.5 931.9)">Relative abundance</text>
<circle cx="348.6" cy="885.3" r="2.5" fill="none" stroke="#f7b373" stroke-width="1.5"/>
<circle cx="348.6" cy="881.1" r="2.5" fill="none" stroke="#f07d4e" stroke-width="1.5"/>
<circle cx="357.8" cy="885.3" r="2.5" fill="none" stroke="#f7b373" stroke-width="1.5"/>
<circle cx="357.8" cy="881.1" r="2.5" fill="none" stroke="#f07d4e" stroke-width="1.5"/>
<circle cx="369.3" cy="885.3" r="2.5" fill="none" stroke="#f7b373" stroke-width="1.5"/>
<circle cx="369.3" cy="881.1" r="2.5" fill="none" stroke="#f07d4e" stroke-width="1.5"/>
<circle cx="378.6" cy="885.3" r="2.5" fill="none" stroke="#f7b373" stroke-width="1.5"/>
<circle cx="378.6" cy="881.1" r="2.5" fill="none" stroke="#f07d4e" stroke-width="1.5"/>
<circle cx="389.2" cy="885.3" r="2.5" fill="none" stroke="#f7b373" stroke-width="1.5"/>
<circle cx="389.2" cy="881.1" r="2.5" fill="none" stroke="#f07d4e" stroke-width="1.5"/>
<circle cx="398.8" cy="885.3" r="2.5" fill="none" stroke="#f7b373" stroke-width="1.5"/>
<circle cx="398.8" cy="881.1" r="2.5" fill="none" stroke="#f07d4e" stroke-width="1.5"/>
<circle cx="409.4" cy="885.3" r="2.5" fill="none" stroke="#f7b373" stroke-width="1.5"/>
<circle cx="409.4" cy="881.1" r="2.5" fill="none" stroke="#f07d4e" stroke-width="1.5"/>
<circle cx="418.7" cy="885.3" r="2.5" fill="none" stroke="#f7b373" stroke-width="1.5"/>
<circle cx="418.7" cy="881.1" r="2.5" fill="none" stroke="#f07d4e" stroke-width="1.5"/>
<circle cx="348.6" cy="907.8" r="2.5" fill="none" stroke="#7a3a9a" stroke-width="1.5"/>
<circle cx="357.8" cy="914.2" r="2.5" fill="none" stroke="#7a3a9a" stroke-width="1.5"/>
<text x="353.2" y="931.5" font-size="12" text-anchor="middle" fill="#9b5cc0">**</text>
<circle cx="348.6" cy="972.0" r="2.5" fill="none" stroke="#a3d2ee" stroke-width="1.5"/>
<circle cx="357.8" cy="972.0" r="2.5" fill="none" stroke="#a3d2ee" stroke-width="1.5"/>
<circle cx="348.6" cy="966.6" r="2.5" fill="none" stroke="#4a699c" stroke-width="1.5"/>
<circle cx="357.8" cy="984.9" r="2.5" fill="none" stroke="#4a699c" stroke-width="1.5"/>
<circle cx="378.6" cy="889.2" r="3.1" fill="#b98ac9"/>
<circle cx="369.3" cy="887.6" r="3.1" fill="#7a3a9a"/>
<circle cx="378.6" cy="885.3" r="3.1" fill="#7a3a9a"/>
<text x="374.7" y="904.0" font-size="11" text-anchor="middle" fill="#9b5cc0">*</text>
<circle cx="369.3" cy="968.2" r="2.5" fill="none" stroke="#a3d2ee" stroke-width="1.5"/>
<circle cx="378.6" cy="968.2" r="2.5" fill="none" stroke="#a3d2ee" stroke-width="1.5"/>
<circle cx="369.3" cy="960.8" r="2.5" fill="none" stroke="#4a699c" stroke-width="1.5"/>
<circle cx="378.6" cy="971.1" r="2.5" fill="none" stroke="#4a699c" stroke-width="1.5"/>
<circle cx="389.2" cy="886.9" r="3.1" fill="#b98ac9"/>
<circle cx="398.8" cy="887.6" r="3.1" fill="#b98ac9"/>
<circle cx="389.2" cy="906.8" r="2.5" fill="none" stroke="#7a3a9a" stroke-width="1.5"/>
<circle cx="398.8" cy="903.6" r="2.5" fill="none" stroke="#7a3a9a" stroke-width="1.5"/>
<circle cx="389.2" cy="971.4" r="2.5" fill="none" stroke="#a3d2ee" stroke-width="1.5"/>
<circle cx="389.2" cy="963.4" r="2.5" fill="none" stroke="#4a699c" stroke-width="1.5"/>
<circle cx="398.8" cy="968.2" r="2.5" fill="none" stroke="#4a699c" stroke-width="1.5"/>
<circle cx="409.4" cy="887.6" r="3.1" fill="#7a3a9a"/>
<circle cx="418.7" cy="885.3" r="3.1" fill="#7a3a9a"/>
<circle cx="409.4" cy="910.0" r="2.5" fill="none" stroke="#b98ac9" stroke-width="1.5"/>
<circle cx="418.7" cy="917.4" r="2.5" fill="none" stroke="#b98ac9" stroke-width="1.5"/>
<circle cx="409.4" cy="955.3" r="2.5" fill="none" stroke="#a3d2ee" stroke-width="1.5"/>
<circle cx="418.7" cy="967.5" r="2.5" fill="none" stroke="#a3d2ee" stroke-width="1.5"/>
<circle cx="409.4" cy="963.0" r="2.5" fill="none" stroke="#4a699c" stroke-width="1.5"/>
<circle cx="418.7" cy="969.8" r="2.5" fill="none" stroke="#4a699c" stroke-width="1.5"/>
<text x="426.0" y="882.1" font-size="10.6">WT</text>
<text x="426.0" y="920.6" font-size="10.6">Δ<tspan font-style="italic">mxiD</tspan></text>
<text x="426.0" y="957.6" font-size="10.6">Δ<tspan font-style="italic">mnmG</tspan></text>
<circle cx="431.2" cy="891.7" r="2.2" fill="none" stroke="#f07d4e" stroke-width="1.5"/>
<text x="439.4" y="895.1" font-size="10.6">TagA</text>
<circle cx="431.2" cy="904.0" r="2.2" fill="none" stroke="#f7b373" stroke-width="1.5"/>
<text x="439.4" y="907.4" font-size="10.6">TagB</text>
<circle cx="431.2" cy="931.2" r="2.2" fill="none" stroke="#4a699c" stroke-width="1.5"/>
<text x="439.4" y="934.6" font-size="10.6">TagC</text>
<circle cx="431.2" cy="942.5" r="2.2" fill="none" stroke="#a3d2ee" stroke-width="1.5"/>
<text x="439.4" y="945.9" font-size="10.6">TagD</text>
<circle cx="431.2" cy="966.2" r="2.2" fill="none" stroke="#7a3a9a" stroke-width="1.5"/>
<text x="439.4" y="969.6" font-size="10.6">TagE</text>
<circle cx="431.2" cy="977.8" r="2.2" fill="none" stroke="#b98ac9" stroke-width="1.5"/>
<text x="439.4" y="981.2" font-size="10.6">TagF</text>
<line x1="473.5" y1="888.5" x2="473.5" y2="909.4" stroke="#999" stroke-width="0.8"/>
<text x="479.3" y="902.6" font-size="10.6">p-Empty</text>
<line x1="473.5" y1="960.8" x2="473.5" y2="981.7" stroke="#333" stroke-width="0.8"/>
<circle cx="478.7" cy="968.0" r="2.1" fill="none" stroke="#111" stroke-width="1.4"/>
<text x="485.8" y="971.4" font-size="10.6">p-Empty</text>
<circle cx="478.7" cy="977.8" r="2.8" fill="#111"/>
<text x="485.8" y="981.2" font-size="10.6">p-<tspan font-style="italic">mnmG</tspan></text>
<text x="543.6" y="707.8" font-size="14.5" fill="#000" font-weight="bold">m</text>
<path d="M584.3,833.4 L584.3,713 L684.5,713 L684.5,833.4" fill="none" stroke="#444" stroke-width="0.9"/>
<rect x="590.7" y="805.7" width="12.0" height="27.7" fill="#a0a0a0"/>
<rect x="609.6" y="831.0" width="12.0" height="2.4" fill="#a0a0a0"/>
<rect x="628.6" y="761.2" width="12.0" height="72.2" fill="#a0a0a0"/>
<rect x="647.5" y="805.0" width="12.0" height="28.4" fill="#a0a0a0"/>
<rect x="666.3" y="809.3" width="12.0" height="24.1" fill="#a0a0a0"/>
<line x1="596.7" y1="821.4" x2="596.7" y2="791.3" stroke="#333" stroke-width="0.9"/>
<line x1="634.6" y1="782.8" x2="634.6" y2="737.1" stroke="#333" stroke-width="0.9"/>
<line x1="653.5" y1="822.6" x2="653.5" y2="788.9" stroke="#333" stroke-width="0.9"/>
<line x1="672.3" y1="819.0" x2="672.3" y2="798.5" stroke="#333" stroke-width="0.9"/>
<circle cx="596.7" cy="793.7" r="2.3" fill="none" stroke="#333" stroke-width="0.8"/>
<circle cx="596.7" cy="799.7" r="2.3" fill="none" stroke="#333" stroke-width="0.8"/>
<circle cx="596.7" cy="823.3" r="2.3" fill="none" stroke="#333" stroke-width="0.8"/>
<circle cx="611.2" cy="833.4" r="2.3" fill="none" stroke="#333" stroke-width="0.8"/>
<circle cx="615.6" cy="833.4" r="2.3" fill="none" stroke="#333" stroke-width="0.8"/>
<circle cx="620.0" cy="833.4" r="2.3" fill="none" stroke="#333" stroke-width="0.8"/>
<circle cx="634.6" cy="735.9" r="2.3" fill="none" stroke="#333" stroke-width="0.8"/>
<circle cx="630.2" cy="774.4" r="2.3" fill="none" stroke="#333" stroke-width="0.8"/>
<circle cx="639.0" cy="771.3" r="2.3" fill="none" stroke="#333" stroke-width="0.8"/>
<circle cx="653.5" cy="788.9" r="2.3" fill="none" stroke="#333" stroke-width="0.8"/>
<circle cx="653.5" cy="803.3" r="2.3" fill="none" stroke="#333" stroke-width="0.8"/>
<circle cx="653.5" cy="822.6" r="2.3" fill="none" stroke="#333" stroke-width="0.8"/>
<circle cx="667.9" cy="802.1" r="2.3" fill="none" stroke="#333" stroke-width="0.8"/>
<circle cx="676.5" cy="804.5" r="2.3" fill="none" stroke="#333" stroke-width="0.8"/>
<circle cx="672.3" cy="820.2" r="2.3" fill="none" stroke="#333" stroke-width="0.8"/>
<line x1="579.7" y1="833.4" x2="684.5" y2="833.4" stroke="#444" stroke-width="0.9"/>
<line x1="596.7" y1="833.4" x2="596.7" y2="837.4" stroke="#444" stroke-width="0.9"/>
<line x1="615.6" y1="833.4" x2="615.6" y2="837.4" stroke="#444" stroke-width="0.9"/>
<line x1="634.6" y1="833.4" x2="634.6" y2="837.4" stroke="#444" stroke-width="0.9"/>
<line x1="653.5" y1="833.4" x2="653.5" y2="837.4" stroke="#444" stroke-width="0.9"/>
<line x1="672.3" y1="833.4" x2="672.3" y2="837.4" stroke="#444" stroke-width="0.9"/>
<line x1="579.7" y1="833.4" x2="584.3" y2="833.4" stroke="#444" stroke-width="0.9"/>
<text x="576.0" y="837.0" font-size="10.2" text-anchor="end">0</text>
<line x1="579.7" y1="809.3" x2="584.3" y2="809.3" stroke="#444" stroke-width="0.9"/>
<text x="576.0" y="812.9" font-size="10.2" text-anchor="end">1</text>
<line x1="579.7" y1="785.2" x2="584.3" y2="785.2" stroke="#444" stroke-width="0.9"/>
<text x="576.0" y="788.8" font-size="10.2" text-anchor="end">2</text>
<line x1="579.7" y1="761.2" x2="584.3" y2="761.2" stroke="#444" stroke-width="0.9"/>
<text x="576.0" y="764.8" font-size="10.2" text-anchor="end">3</text>
<line x1="579.7" y1="737.1" x2="584.3" y2="737.1" stroke="#444" stroke-width="0.9"/>
<text x="576.0" y="740.7" font-size="10.2" text-anchor="end">4</text>
<line x1="579.7" y1="713.0" x2="584.3" y2="713.0" stroke="#444" stroke-width="0.9"/>
<text x="576.0" y="716.6" font-size="10.2" text-anchor="end">5</text>
<text x="639.0" y="728.3" font-size="10.6"><tspan font-style="italic">mnmE</tspan></text>
<text x="555.1" y="773.2" font-size="10.9" text-anchor="middle" transform="rotate(-90 555.1 773.2)">Relative expression</text>
<text x="543.6" y="859.4" font-size="14.5" fill="#000" font-weight="bold">n</text>
<path d="M584.3,970.9 L584.3,850.3 L684.5,850.3 L684.5,970.9" fill="none" stroke="#444" stroke-width="0.9"/>
<rect x="590.7" y="915.6" width="12.0" height="55.3" fill="#a0a0a0"/>
<rect x="609.6" y="886.8" width="12.0" height="84.1" fill="#a0a0a0"/>
<rect x="628.6" y="914.2" width="12.0" height="56.7" fill="#a0a0a0"/>
<rect x="647.5" y="968.5" width="12.0" height="2.4" fill="#a0a0a0"/>
<rect x="666.3" y="916.1" width="12.0" height="54.8" fill="#a0a0a0"/>
<line x1="596.7" y1="953.1" x2="596.7" y2="877.2" stroke="#8a8a8a" stroke-width="0.9"/>
<line x1="615.6" y1="898.8" x2="615.6" y2="874.8" stroke="#333" stroke-width="0.9"/>
<line x1="634.6" y1="939.7" x2="634.6" y2="891.6" stroke="#333" stroke-width="0.9"/>
<line x1="653.5" y1="970.9" x2="653.5" y2="969.0" stroke="#333" stroke-width="0.9"/>
<line x1="672.3" y1="931.5" x2="672.3" y2="902.7" stroke="#333" stroke-width="0.9"/>
<circle cx="596.7" cy="872.4" r="2.3" fill="none" stroke="#333" stroke-width="0.8"/>
<circle cx="596.7" cy="933.9" r="2.3" fill="none" stroke="#333" stroke-width="0.8"/>
<circle cx="596.7" cy="940.6" r="2.3" fill="none" stroke="#333" stroke-width="0.8"/>
<circle cx="615.6" cy="872.4" r="2.3" fill="none" stroke="#333" stroke-width="0.8"/>
<circle cx="611.2" cy="894.0" r="2.3" fill="none" stroke="#333" stroke-width="0.8"/>
<circle cx="620.0" cy="893.1" r="2.3" fill="none" stroke="#333" stroke-width="0.8"/>
<circle cx="634.6" cy="898.8" r="2.3" fill="none" stroke="#333" stroke-width="0.8"/>
<circle cx="634.6" cy="902.7" r="2.3" fill="none" stroke="#333" stroke-width="0.8"/>
<circle cx="634.6" cy="940.6" r="2.3" fill="none" stroke="#333" stroke-width="0.8"/>
<circle cx="649.1" cy="970.9" r="2.3" fill="none" stroke="#333" stroke-width="0.8"/>
<circle cx="657.9" cy="970.9" r="2.3" fill="none" stroke="#333" stroke-width="0.8"/>
<circle cx="672.3" cy="902.7" r="2.3" fill="none" stroke="#333" stroke-width="0.8"/>
<circle cx="672.3" cy="914.2" r="2.3" fill="none" stroke="#333" stroke-width="0.8"/>
<circle cx="672.3" cy="931.5" r="2.3" fill="none" stroke="#333" stroke-width="0.8"/>
<line x1="579.7" y1="970.9" x2="684.5" y2="970.9" stroke="#444" stroke-width="0.9"/>
<line x1="596.7" y1="970.9" x2="596.7" y2="974.9" stroke="#444" stroke-width="0.9"/>
<line x1="615.6" y1="970.9" x2="615.6" y2="974.9" stroke="#444" stroke-width="0.9"/>
<line x1="634.6" y1="970.9" x2="634.6" y2="974.9" stroke="#444" stroke-width="0.9"/>
<line x1="653.5" y1="970.9" x2="653.5" y2="974.9" stroke="#444" stroke-width="0.9"/>
<line x1="672.3" y1="970.9" x2="672.3" y2="974.9" stroke="#444" stroke-width="0.9"/>
<line x1="579.7" y1="970.9" x2="584.3" y2="970.9" stroke="#444" stroke-width="0.9"/>
<text x="576.0" y="974.5" font-size="10.2" text-anchor="end">0</text>
<line x1="579.7" y1="922.9" x2="584.3" y2="922.9" stroke="#444" stroke-width="0.9"/>
<text x="576.0" y="926.5" font-size="10.2" text-anchor="end">1</text>
<line x1="579.7" y1="874.8" x2="584.3" y2="874.8" stroke="#444" stroke-width="0.9"/>
<text x="576.0" y="878.4" font-size="10.2" text-anchor="end">2</text>
<text x="639.7" y="865.2" font-size="10.6"><tspan font-style="italic">mnmG</tspan></text>
<text x="555.1" y="911.2" font-size="10.9" text-anchor="middle" transform="rotate(-90 555.1 911.2)">Relative expression</text>
<text x="596.3" y="988.9" font-size="10.6" text-anchor="middle">WT</text>
<line x1="590.8" y1="993.9" x2="604.0" y2="993.9" stroke="#aaa" stroke-width="1.3"/>
<text x="624.8" y="988.9" font-size="10.6" text-anchor="middle">Δ<tspan font-style="italic">E</tspan></text>
<line x1="609.4" y1="993.9" x2="641.2" y2="993.9" stroke="#aaa" stroke-width="1.3"/>
<text x="663.1" y="988.9" font-size="10.6" text-anchor="middle">Δ<tspan font-style="italic">G</tspan></text>
<line x1="647.1" y1="993.9" x2="679.1" y2="993.9" stroke="#aaa" stroke-width="1.3"/>
<text x="583.6" y="1007.5" font-size="10.6" text-anchor="end">p-Empty</text>
<text x="583.6" y="1019.1" font-size="10.6" text-anchor="end">p-<tspan font-style="italic">mnmE</tspan></text>
<text x="583.6" y="1032.7" font-size="10.6" text-anchor="end">p-<tspan font-style="italic">mnmG</tspan></text>
<text x="597.0" y="1007.1" font-size="8.8" text-anchor="middle">+</text>
<text x="615.9" y="1007.1" font-size="8.8" text-anchor="middle">+</text>
<line x1="632.2" y1="1004.0" x2="637.0" y2="1004.0" stroke="#444" stroke-width="0.8"/>
<text x="653.8" y="1007.1" font-size="8.8" text-anchor="middle">+</text>
<line x1="669.9" y1="1004.0" x2="674.7" y2="1004.0" stroke="#444" stroke-width="0.8"/>
<line x1="594.3" y1="1016.0" x2="599.1" y2="1016.0" stroke="#444" stroke-width="0.8"/>
<line x1="613.2" y1="1016.0" x2="618.0" y2="1016.0" stroke="#444" stroke-width="0.8"/>
<text x="634.9" y="1019.1" font-size="8.8" text-anchor="middle">+</text>
<line x1="651.1" y1="1016.0" x2="655.9" y2="1016.0" stroke="#444" stroke-width="0.8"/>
<line x1="669.9" y1="1016.0" x2="674.7" y2="1016.0" stroke="#444" stroke-width="0.8"/>
<line x1="594.3" y1="1029.5" x2="599.1" y2="1029.5" stroke="#444" stroke-width="0.8"/>
<line x1="613.2" y1="1029.5" x2="618.0" y2="1029.5" stroke="#444" stroke-width="0.8"/>
<line x1="632.2" y1="1029.5" x2="637.0" y2="1029.5" stroke="#444" stroke-width="0.8"/>
<line x1="651.1" y1="1029.5" x2="655.9" y2="1029.5" stroke="#444" stroke-width="0.8"/>
<text x="672.6" y="1032.6" font-size="8.8" text-anchor="middle">+</text>
</svg></body></html>
